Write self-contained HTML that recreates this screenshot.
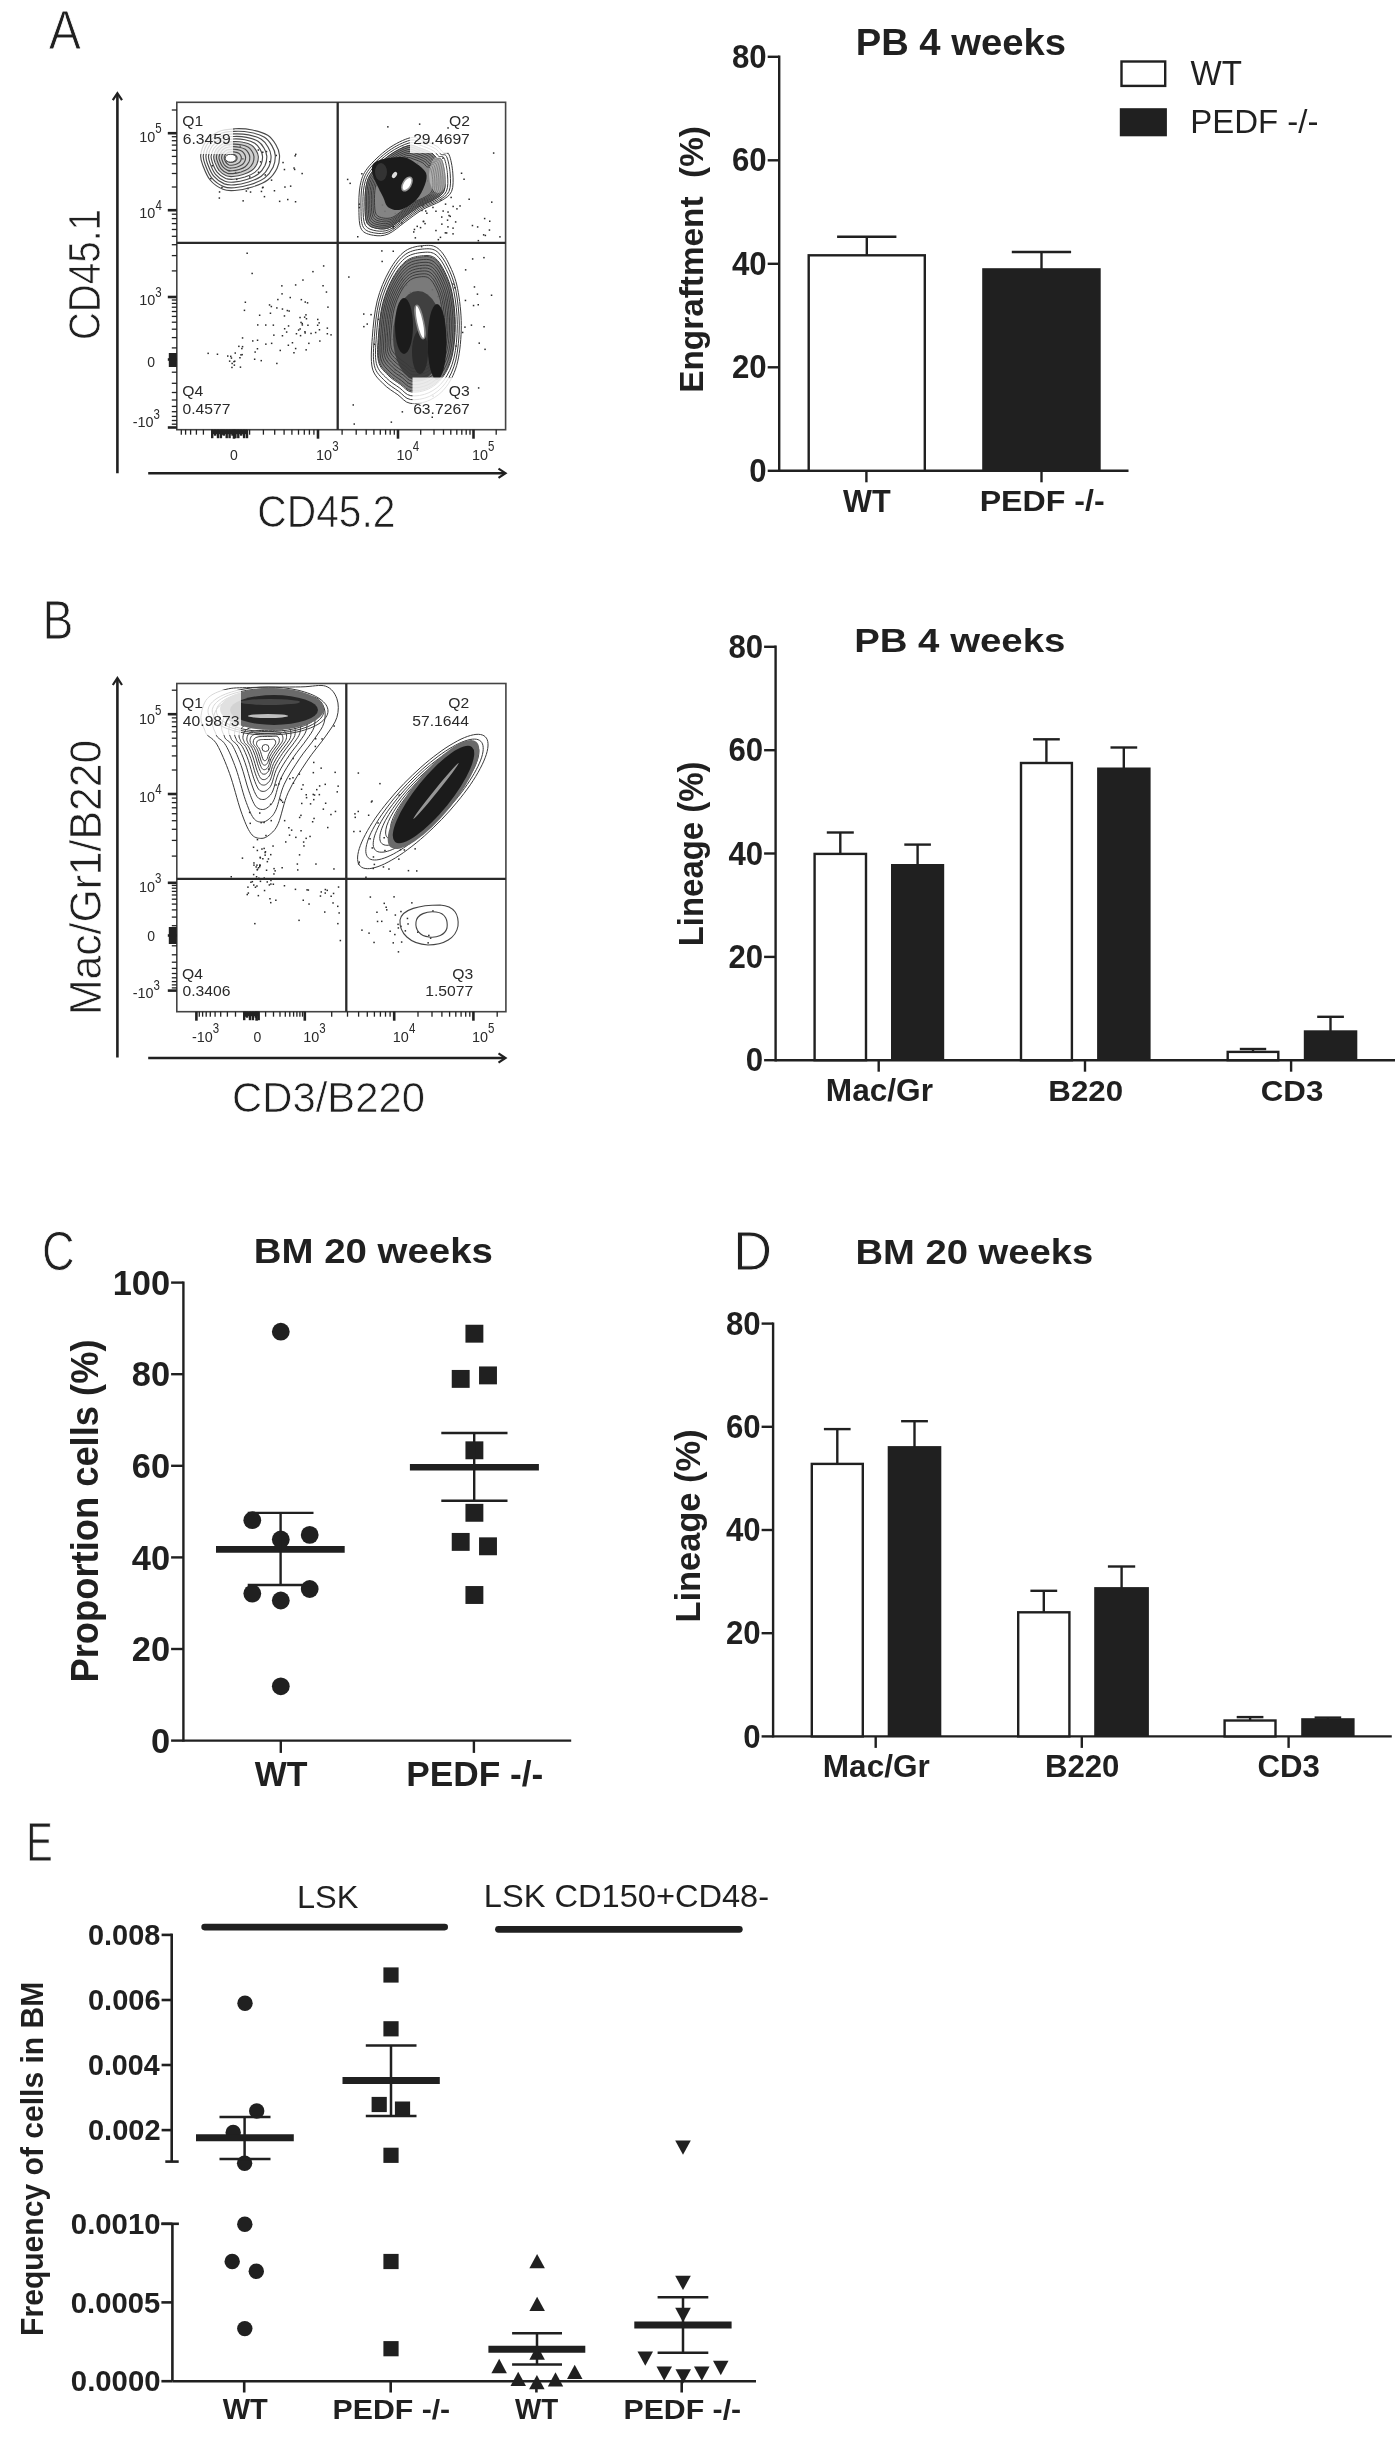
<!DOCTYPE html>
<html><head><meta charset="utf-8"><style>
html,body{margin:0;padding:0;background:#fff;}
svg{display:block;filter:grayscale(1);}
text{font-family:"Liberation Sans",sans-serif;font-kerning:none;}
</style></head><body>
<svg width="1395" height="2438" viewBox="0 0 1395 2438">
<rect width="1395" height="2438" fill="#fff"/>
<line x1="779.2" y1="55.6" x2="779.2" y2="472.0" stroke="#231f20" stroke-width="2.4" stroke-linecap="butt"/>
<line x1="767.7" y1="470.8" x2="779.2" y2="470.8" stroke="#231f20" stroke-width="2.4" stroke-linecap="butt"/>
<text transform="translate(749.33,481.99) scale(0.9600,1)" font-size="32.50" font-weight="bold" fill="#231f20">0</text>
<line x1="767.7" y1="367.3" x2="779.2" y2="367.3" stroke="#231f20" stroke-width="2.4" stroke-linecap="butt"/>
<text transform="translate(731.98,378.49) scale(0.9600,1)" font-size="32.50" font-weight="bold" fill="#231f20">20</text>
<line x1="767.7" y1="263.8" x2="779.2" y2="263.8" stroke="#231f20" stroke-width="2.4" stroke-linecap="butt"/>
<text transform="translate(731.98,274.99) scale(0.9600,1)" font-size="32.50" font-weight="bold" fill="#231f20">40</text>
<line x1="767.7" y1="160.3" x2="779.2" y2="160.3" stroke="#231f20" stroke-width="2.4" stroke-linecap="butt"/>
<text transform="translate(731.98,171.49) scale(0.9600,1)" font-size="32.50" font-weight="bold" fill="#231f20">60</text>
<line x1="767.7" y1="56.8" x2="779.2" y2="56.8" stroke="#231f20" stroke-width="2.4" stroke-linecap="butt"/>
<text transform="translate(731.98,67.99) scale(0.9600,1)" font-size="32.50" font-weight="bold" fill="#231f20">80</text>
<line x1="779.2" y1="470.8" x2="1128.5" y2="470.8" stroke="#231f20" stroke-width="2.4" stroke-linecap="butt"/>
<line x1="866.4" y1="470.8" x2="866.4" y2="482.3" stroke="#231f20" stroke-width="2.4" stroke-linecap="butt"/>
<line x1="1041.5" y1="470.8" x2="1041.5" y2="482.3" stroke="#231f20" stroke-width="2.4" stroke-linecap="butt"/>
<line x1="866.8" y1="236.7" x2="866.8" y2="255.3" stroke="#231f20" stroke-width="2.4" stroke-linecap="butt"/>
<line x1="837.1" y1="236.7" x2="896.4" y2="236.7" stroke="#231f20" stroke-width="2.4" stroke-linecap="butt"/>
<rect x="808.7" y="255.3" width="116.1" height="215.5" fill="#fff" stroke="#231f20" stroke-width="2.4"/>
<line x1="1041.5" y1="252.0" x2="1041.5" y2="269.4" stroke="#231f20" stroke-width="2.4" stroke-linecap="butt"/>
<line x1="1011.8" y1="252.0" x2="1071.1" y2="252.0" stroke="#231f20" stroke-width="2.4" stroke-linecap="butt"/>
<rect x="982.2" y="268.2" width="118.5" height="202.6" fill="#231f20"/>
<text transform="translate(842.97,511.80) scale(0.9543,1)" font-size="32.12" font-weight="bold" fill="#231f20">WT</text>
<text transform="translate(979.65,511.19) scale(1.0586,1)" font-size="30.35" font-weight="bold" fill="#231f20">PEDF -/-</text>
<text transform="translate(855.64,54.93) scale(1.0137,1)" font-size="37.72" font-weight="bold" fill="#231f20">PB 4 weeks</text>
<text transform="translate(702.78,392.83) rotate(-90) scale(0.9794,1)" font-size="34.06" font-weight="bold" fill="#231f20">Engraftment&#160;&#160;(%)</text>
<rect x="1121.5" y="61.5" width="43.7" height="24.4" fill="#fff" stroke="#231f20" stroke-width="2.4"/>
<rect x="1119.8" y="108.2" width="47.1" height="28.1" fill="#231f20"/>
<text transform="translate(1190.60,84.90) scale(0.9219,1)" font-size="35.90" font-weight="normal" fill="#231f20">WT</text>
<text transform="translate(1190.19,133.27) scale(0.9697,1)" font-size="34.04" font-weight="normal" fill="#231f20">PEDF -/-</text>
<line x1="775.6" y1="645.6" x2="775.6" y2="1061.4" stroke="#231f20" stroke-width="2.4" stroke-linecap="butt"/>
<line x1="764.1" y1="1060.2" x2="775.6" y2="1060.2" stroke="#231f20" stroke-width="2.4" stroke-linecap="butt"/>
<text transform="translate(745.73,1071.39) scale(0.9600,1)" font-size="32.50" font-weight="bold" fill="#231f20">0</text>
<line x1="764.1" y1="956.9" x2="775.6" y2="956.9" stroke="#231f20" stroke-width="2.4" stroke-linecap="butt"/>
<text transform="translate(728.38,968.04) scale(0.9600,1)" font-size="32.50" font-weight="bold" fill="#231f20">20</text>
<line x1="764.1" y1="853.5" x2="775.6" y2="853.5" stroke="#231f20" stroke-width="2.4" stroke-linecap="butt"/>
<text transform="translate(728.38,864.69) scale(0.9600,1)" font-size="32.50" font-weight="bold" fill="#231f20">40</text>
<line x1="764.1" y1="750.2" x2="775.6" y2="750.2" stroke="#231f20" stroke-width="2.4" stroke-linecap="butt"/>
<text transform="translate(728.38,761.34) scale(0.9600,1)" font-size="32.50" font-weight="bold" fill="#231f20">60</text>
<line x1="764.1" y1="646.8" x2="775.6" y2="646.8" stroke="#231f20" stroke-width="2.4" stroke-linecap="butt"/>
<text transform="translate(728.38,657.99) scale(0.9600,1)" font-size="32.50" font-weight="bold" fill="#231f20">80</text>
<line x1="775.6" y1="1060.2" x2="1395.0" y2="1060.2" stroke="#231f20" stroke-width="2.4" stroke-linecap="butt"/>
<line x1="878.7" y1="1060.2" x2="878.7" y2="1071.7" stroke="#231f20" stroke-width="2.4" stroke-linecap="butt"/>
<line x1="1085.0" y1="1060.2" x2="1085.0" y2="1071.7" stroke="#231f20" stroke-width="2.4" stroke-linecap="butt"/>
<line x1="1291.1" y1="1060.2" x2="1291.1" y2="1071.7" stroke="#231f20" stroke-width="2.4" stroke-linecap="butt"/>
<line x1="840.3" y1="832.5" x2="840.3" y2="853.9" stroke="#231f20" stroke-width="2.4" stroke-linecap="butt"/>
<line x1="826.8" y1="832.5" x2="853.8" y2="832.5" stroke="#231f20" stroke-width="2.4" stroke-linecap="butt"/>
<rect x="814.6" y="853.9" width="51.4" height="206.3" fill="#fff" stroke="#231f20" stroke-width="2.4"/>
<line x1="917.6" y1="844.6" x2="917.6" y2="865.2" stroke="#231f20" stroke-width="2.4" stroke-linecap="butt"/>
<line x1="904.3" y1="844.6" x2="930.9" y2="844.6" stroke="#231f20" stroke-width="2.4" stroke-linecap="butt"/>
<rect x="891.0" y="864.0" width="53.2" height="196.2" fill="#231f20"/>
<line x1="1046.4" y1="739.3" x2="1046.4" y2="763.0" stroke="#231f20" stroke-width="2.4" stroke-linecap="butt"/>
<line x1="1033.1" y1="739.3" x2="1059.8" y2="739.3" stroke="#231f20" stroke-width="2.4" stroke-linecap="butt"/>
<rect x="1021.0" y="763.0" width="50.9" height="297.2" fill="#fff" stroke="#231f20" stroke-width="2.4"/>
<line x1="1123.8" y1="747.5" x2="1123.8" y2="768.7" stroke="#231f20" stroke-width="2.4" stroke-linecap="butt"/>
<line x1="1110.5" y1="747.5" x2="1137.2" y2="747.5" stroke="#231f20" stroke-width="2.4" stroke-linecap="butt"/>
<rect x="1097.1" y="767.5" width="53.5" height="292.7" fill="#231f20"/>
<line x1="1253.0" y1="1049.0" x2="1253.0" y2="1051.9" stroke="#231f20" stroke-width="2.4" stroke-linecap="butt"/>
<line x1="1239.8" y1="1049.0" x2="1266.2" y2="1049.0" stroke="#231f20" stroke-width="2.4" stroke-linecap="butt"/>
<rect x="1227.7" y="1051.9" width="50.6" height="8.3" fill="#fff" stroke="#231f20" stroke-width="2.4"/>
<line x1="1330.5" y1="1016.8" x2="1330.5" y2="1031.5" stroke="#231f20" stroke-width="2.4" stroke-linecap="butt"/>
<line x1="1317.2" y1="1016.8" x2="1343.9" y2="1016.8" stroke="#231f20" stroke-width="2.4" stroke-linecap="butt"/>
<rect x="1303.8" y="1030.3" width="53.5" height="29.9" fill="#231f20"/>
<text transform="translate(825.78,1100.98) scale(1.0202,1)" font-size="31.02" font-weight="bold" fill="#231f20">Mac/Gr</text>
<text transform="translate(1048.31,1100.61) scale(1.0397,1)" font-size="30.08" font-weight="bold" fill="#231f20">B220</text>
<text transform="translate(1260.72,1100.56) scale(1.0425,1)" font-size="30.02" font-weight="bold" fill="#231f20">CD3</text>
<text transform="translate(854.13,652.28) scale(1.1606,1)" font-size="33.09" font-weight="bold" fill="#231f20">PB 4 weeks</text>
<text transform="translate(702.94,946.30) rotate(-90) scale(0.9610,1)" font-size="34.28" font-weight="bold" fill="#231f20">Lineage (%)</text>
<line x1="773.1" y1="1322.4" x2="773.1" y2="1737.6" stroke="#231f20" stroke-width="2.4" stroke-linecap="butt"/>
<line x1="761.6" y1="1736.4" x2="773.1" y2="1736.4" stroke="#231f20" stroke-width="2.4" stroke-linecap="butt"/>
<text transform="translate(743.23,1747.59) scale(0.9600,1)" font-size="32.50" font-weight="bold" fill="#231f20">0</text>
<line x1="761.6" y1="1633.2" x2="773.1" y2="1633.2" stroke="#231f20" stroke-width="2.4" stroke-linecap="butt"/>
<text transform="translate(725.88,1644.39) scale(0.9600,1)" font-size="32.50" font-weight="bold" fill="#231f20">20</text>
<line x1="761.6" y1="1530.0" x2="773.1" y2="1530.0" stroke="#231f20" stroke-width="2.4" stroke-linecap="butt"/>
<text transform="translate(725.88,1541.19) scale(0.9600,1)" font-size="32.50" font-weight="bold" fill="#231f20">40</text>
<line x1="761.6" y1="1426.8" x2="773.1" y2="1426.8" stroke="#231f20" stroke-width="2.4" stroke-linecap="butt"/>
<text transform="translate(725.88,1437.99) scale(0.9600,1)" font-size="32.50" font-weight="bold" fill="#231f20">60</text>
<line x1="761.6" y1="1323.6" x2="773.1" y2="1323.6" stroke="#231f20" stroke-width="2.4" stroke-linecap="butt"/>
<text transform="translate(725.88,1334.79) scale(0.9600,1)" font-size="32.50" font-weight="bold" fill="#231f20">80</text>
<line x1="773.1" y1="1736.4" x2="1391.8" y2="1736.4" stroke="#231f20" stroke-width="2.4" stroke-linecap="butt"/>
<line x1="875.7" y1="1736.4" x2="875.7" y2="1747.9" stroke="#231f20" stroke-width="2.4" stroke-linecap="butt"/>
<line x1="1081.8" y1="1736.4" x2="1081.8" y2="1747.9" stroke="#231f20" stroke-width="2.4" stroke-linecap="butt"/>
<line x1="1288.6" y1="1736.4" x2="1288.6" y2="1747.9" stroke="#231f20" stroke-width="2.4" stroke-linecap="butt"/>
<line x1="837.3" y1="1429.1" x2="837.3" y2="1463.9" stroke="#231f20" stroke-width="2.4" stroke-linecap="butt"/>
<line x1="823.9" y1="1429.1" x2="850.6" y2="1429.1" stroke="#231f20" stroke-width="2.4" stroke-linecap="butt"/>
<rect x="811.8" y="1463.9" width="51.0" height="272.5" fill="#fff" stroke="#231f20" stroke-width="2.4"/>
<line x1="914.5" y1="1421.2" x2="914.5" y2="1447.3" stroke="#231f20" stroke-width="2.4" stroke-linecap="butt"/>
<line x1="901.1" y1="1421.2" x2="927.9" y2="1421.2" stroke="#231f20" stroke-width="2.4" stroke-linecap="butt"/>
<rect x="887.7" y="1446.1" width="53.6" height="290.3" fill="#231f20"/>
<line x1="1043.8" y1="1590.8" x2="1043.8" y2="1612.3" stroke="#231f20" stroke-width="2.4" stroke-linecap="butt"/>
<line x1="1030.4" y1="1590.8" x2="1057.2" y2="1590.8" stroke="#231f20" stroke-width="2.4" stroke-linecap="butt"/>
<rect x="1018.2" y="1612.3" width="51.2" height="124.1" fill="#fff" stroke="#231f20" stroke-width="2.4"/>
<line x1="1121.6" y1="1566.5" x2="1121.6" y2="1588.3" stroke="#231f20" stroke-width="2.4" stroke-linecap="butt"/>
<line x1="1107.9" y1="1566.5" x2="1135.2" y2="1566.5" stroke="#231f20" stroke-width="2.4" stroke-linecap="butt"/>
<rect x="1094.2" y="1587.1" width="54.7" height="149.3" fill="#231f20"/>
<line x1="1250.1" y1="1717.1" x2="1250.1" y2="1720.5" stroke="#231f20" stroke-width="2.4" stroke-linecap="butt"/>
<line x1="1236.7" y1="1717.1" x2="1263.4" y2="1717.1" stroke="#231f20" stroke-width="2.4" stroke-linecap="butt"/>
<rect x="1224.6" y="1720.5" width="50.9" height="15.9" fill="#fff" stroke="#231f20" stroke-width="2.4"/>
<line x1="1327.9" y1="1717.6" x2="1327.9" y2="1719.4" stroke="#231f20" stroke-width="2.4" stroke-linecap="butt"/>
<line x1="1314.6" y1="1717.6" x2="1341.2" y2="1717.6" stroke="#231f20" stroke-width="2.4" stroke-linecap="butt"/>
<rect x="1301.2" y="1718.2" width="53.4" height="18.2" fill="#231f20"/>
<text transform="translate(822.79,1777.27) scale(1.0095,1)" font-size="31.29" font-weight="bold" fill="#231f20">Mac/Gr</text>
<text transform="translate(1044.91,1777.10) scale(1.0130,1)" font-size="30.79" font-weight="bold" fill="#231f20">B220</text>
<text transform="translate(1257.52,1777.05) scale(1.0153,1)" font-size="30.73" font-weight="bold" fill="#231f20">CD3</text>
<text transform="translate(855.44,1263.76) scale(1.0916,1)" font-size="35.00" font-weight="bold" fill="#231f20">BM 20 weeks</text>
<text transform="translate(700.06,1622.60) rotate(-90) scale(1.0077,1)" font-size="34.17" font-weight="bold" fill="#231f20">Lineage (%)</text>
<line x1="183.4" y1="1281.4" x2="183.4" y2="1741.8" stroke="#231f20" stroke-width="2.4" stroke-linecap="butt"/>
<line x1="171.1" y1="1740.6" x2="183.4" y2="1740.6" stroke="#231f20" stroke-width="2.4" stroke-linecap="butt"/>
<text transform="translate(150.97,1752.85) scale(0.9670,1)" font-size="35.60" font-weight="bold" fill="#231f20">0</text>
<line x1="171.1" y1="1649.0" x2="183.4" y2="1649.0" stroke="#231f20" stroke-width="2.4" stroke-linecap="butt"/>
<text transform="translate(131.82,1661.25) scale(0.9670,1)" font-size="35.60" font-weight="bold" fill="#231f20">20</text>
<line x1="171.1" y1="1557.4" x2="183.4" y2="1557.4" stroke="#231f20" stroke-width="2.4" stroke-linecap="butt"/>
<text transform="translate(131.82,1569.65) scale(0.9670,1)" font-size="35.60" font-weight="bold" fill="#231f20">40</text>
<line x1="171.1" y1="1465.8" x2="183.4" y2="1465.8" stroke="#231f20" stroke-width="2.4" stroke-linecap="butt"/>
<text transform="translate(131.82,1478.05) scale(0.9670,1)" font-size="35.60" font-weight="bold" fill="#231f20">60</text>
<line x1="171.1" y1="1374.2" x2="183.4" y2="1374.2" stroke="#231f20" stroke-width="2.4" stroke-linecap="butt"/>
<text transform="translate(131.82,1386.45) scale(0.9670,1)" font-size="35.60" font-weight="bold" fill="#231f20">80</text>
<line x1="171.1" y1="1282.6" x2="183.4" y2="1282.6" stroke="#231f20" stroke-width="2.4" stroke-linecap="butt"/>
<text transform="translate(112.68,1294.85) scale(0.9670,1)" font-size="35.60" font-weight="bold" fill="#231f20">100</text>
<line x1="183.4" y1="1740.6" x2="571.2" y2="1740.6" stroke="#231f20" stroke-width="2.4" stroke-linecap="butt"/>
<line x1="280.8" y1="1740.6" x2="280.8" y2="1752.9" stroke="#231f20" stroke-width="2.4" stroke-linecap="butt"/>
<line x1="473.9" y1="1740.6" x2="473.9" y2="1752.9" stroke="#231f20" stroke-width="2.4" stroke-linecap="butt"/>
<text transform="translate(254.77,1786.00) scale(0.9557,1)" font-size="35.47" font-weight="bold" fill="#231f20">WT</text>
<text transform="translate(406.14,1785.71) scale(1.0308,1)" font-size="34.25" font-weight="bold" fill="#231f20">PEDF -/-</text>
<text transform="translate(253.73,1263.35) scale(1.0813,1)" font-size="35.54" font-weight="bold" fill="#231f20">BM 20 weeks</text>
<text transform="translate(97.99,1682.53) rotate(-90) scale(0.9409,1)" font-size="38.62" font-weight="bold" fill="#231f20">Proportion cells (%)</text>
<circle cx="280.8" cy="1331.7" r="8.9" fill="#231f20"/>
<circle cx="252.3" cy="1520.2" r="8.9" fill="#231f20"/>
<circle cx="309.7" cy="1534.9" r="8.9" fill="#231f20"/>
<circle cx="280.8" cy="1539.5" r="8.9" fill="#231f20"/>
<circle cx="252.3" cy="1593.6" r="8.9" fill="#231f20"/>
<circle cx="309.7" cy="1589" r="8.9" fill="#231f20"/>
<circle cx="280.8" cy="1600.5" r="8.9" fill="#231f20"/>
<circle cx="280.8" cy="1686.3" r="8.9" fill="#231f20"/>
<rect x="465.45" y="1324.75" width="17.9" height="17.9" fill="#231f20"/>
<rect x="451.75" y="1369.95" width="17.9" height="17.9" fill="#231f20"/>
<rect x="479.05" y="1366.45" width="17.9" height="17.9" fill="#231f20"/>
<rect x="465.45" y="1441.35" width="17.9" height="17.9" fill="#231f20"/>
<rect x="465.45" y="1503.85" width="17.9" height="17.9" fill="#231f20"/>
<rect x="451.75" y="1532.95" width="17.9" height="17.9" fill="#231f20"/>
<rect x="479.05" y="1537.35" width="17.9" height="17.9" fill="#231f20"/>
<rect x="465.45" y="1586.05" width="17.9" height="17.9" fill="#231f20"/>
<line x1="216.0" y1="1549.4" x2="344.7" y2="1549.4" stroke="#231f20" stroke-width="6.8" stroke-linecap="butt"/>
<line x1="280.6" y1="1512.9" x2="280.6" y2="1585.0" stroke="#231f20" stroke-width="2.4" stroke-linecap="butt"/>
<line x1="247.7" y1="1512.9" x2="313.5" y2="1512.9" stroke="#231f20" stroke-width="2.4" stroke-linecap="butt"/>
<line x1="247.7" y1="1585.0" x2="313.5" y2="1585.0" stroke="#231f20" stroke-width="2.4" stroke-linecap="butt"/>
<line x1="409.9" y1="1467.3" x2="538.9" y2="1467.3" stroke="#231f20" stroke-width="6.6" stroke-linecap="butt"/>
<line x1="474.2" y1="1433.0" x2="474.2" y2="1500.8" stroke="#231f20" stroke-width="2.4" stroke-linecap="butt"/>
<line x1="441.3" y1="1433.0" x2="507.5" y2="1433.0" stroke="#231f20" stroke-width="2.4" stroke-linecap="butt"/>
<line x1="441.3" y1="1500.8" x2="507.5" y2="1500.8" stroke="#231f20" stroke-width="2.4" stroke-linecap="butt"/>
<line x1="171.7" y1="1933.6" x2="171.7" y2="2161.6" stroke="#231f20" stroke-width="2.6" stroke-linecap="butt"/>
<line x1="165.3" y1="2161.6" x2="178.7" y2="2161.6" stroke="#231f20" stroke-width="2.6" stroke-linecap="butt"/>
<line x1="161.6" y1="1934.9" x2="171.7" y2="1934.9" stroke="#231f20" stroke-width="2.6" stroke-linecap="butt"/>
<text transform="translate(87.96,1945.01) scale(0.9853,1)" font-size="29.38" font-weight="bold" fill="#231f20">0.008</text>
<line x1="161.6" y1="2000.0" x2="171.7" y2="2000.0" stroke="#231f20" stroke-width="2.6" stroke-linecap="butt"/>
<text transform="translate(87.95,2010.11) scale(0.9875,1)" font-size="29.38" font-weight="bold" fill="#231f20">0.006</text>
<line x1="161.6" y1="2065.0" x2="171.7" y2="2065.0" stroke="#231f20" stroke-width="2.6" stroke-linecap="butt"/>
<text transform="translate(87.97,2075.11) scale(0.9751,1)" font-size="29.38" font-weight="bold" fill="#231f20">0.004</text>
<line x1="161.6" y1="2130.1" x2="171.7" y2="2130.1" stroke="#231f20" stroke-width="2.6" stroke-linecap="butt"/>
<text transform="translate(87.95,2140.21) scale(0.9891,1)" font-size="29.38" font-weight="bold" fill="#231f20">0.002</text>
<line x1="172.4" y1="2223.8" x2="172.4" y2="2381.2" stroke="#231f20" stroke-width="2.6" stroke-linecap="butt"/>
<line x1="161.4" y1="2223.8" x2="178.9" y2="2223.8" stroke="#231f20" stroke-width="2.6" stroke-linecap="butt"/>
<line x1="161.4" y1="2223.8" x2="172.4" y2="2223.8" stroke="#231f20" stroke-width="2.6" stroke-linecap="butt"/>
<text transform="translate(70.84,2234.06) scale(0.9848,1)" font-size="29.80" font-weight="bold" fill="#231f20">0.0010</text>
<line x1="161.4" y1="2302.4" x2="172.4" y2="2302.4" stroke="#231f20" stroke-width="2.6" stroke-linecap="butt"/>
<text transform="translate(70.84,2312.66) scale(0.9804,1)" font-size="29.80" font-weight="bold" fill="#231f20">0.0005</text>
<line x1="161.4" y1="2381.2" x2="172.4" y2="2381.2" stroke="#231f20" stroke-width="2.6" stroke-linecap="butt"/>
<text transform="translate(70.84,2391.46) scale(0.9848,1)" font-size="29.80" font-weight="bold" fill="#231f20">0.0000</text>
<line x1="172.4" y1="2381.2" x2="756.0" y2="2381.2" stroke="#231f20" stroke-width="2.6" stroke-linecap="butt"/>
<line x1="244.2" y1="2381.2" x2="244.2" y2="2392.5" stroke="#231f20" stroke-width="2.6" stroke-linecap="butt"/>
<line x1="390.7" y1="2381.2" x2="390.7" y2="2392.5" stroke="#231f20" stroke-width="2.6" stroke-linecap="butt"/>
<line x1="536.4" y1="2381.2" x2="536.4" y2="2392.5" stroke="#231f20" stroke-width="2.6" stroke-linecap="butt"/>
<line x1="681.7" y1="2381.2" x2="681.7" y2="2392.5" stroke="#231f20" stroke-width="2.6" stroke-linecap="butt"/>
<text transform="translate(222.67,2419.20) scale(0.9697,1)" font-size="29.94" font-weight="bold" fill="#231f20">WT</text>
<text transform="translate(332.58,2418.63) scale(1.0676,1)" font-size="28.34" font-weight="bold" fill="#231f20">PEDF -/-</text>
<text transform="translate(515.07,2419.20) scale(0.9286,1)" font-size="29.94" font-weight="bold" fill="#231f20">WT</text>
<text transform="translate(623.47,2418.63) scale(1.0685,1)" font-size="28.34" font-weight="bold" fill="#231f20">PEDF -/-</text>
<text transform="translate(42.80,2335.91) rotate(-90) scale(0.9601,1)" font-size="31.33" font-weight="bold" fill="#231f20">Frequency of cells in BM</text>
<line x1="204.6" y1="1927.1" x2="444.7" y2="1927.1" stroke="#231f20" stroke-width="6.6" stroke-linecap="round"/>
<line x1="498.5" y1="1929.3" x2="739.3" y2="1929.3" stroke="#231f20" stroke-width="6.8" stroke-linecap="round"/>
<text transform="translate(297.03,1907.89) scale(1.0273,1)" font-size="31.64" font-weight="normal" fill="#231f20">LSK</text>
<text transform="translate(483.83,1907.49) scale(1.0394,1)" font-size="31.36" font-weight="normal" fill="#231f20">LSK CD150+CD48-</text>
<circle cx="245" cy="2003.2" r="7.7" fill="#231f20"/>
<circle cx="256.7" cy="2111" r="7.7" fill="#231f20"/>
<circle cx="233.2" cy="2132.4" r="7.7" fill="#231f20"/>
<circle cx="244.6" cy="2163.2" r="7.7" fill="#231f20"/>
<circle cx="244.8" cy="2224.2" r="7.7" fill="#231f20"/>
<circle cx="232.2" cy="2261.5" r="7.7" fill="#231f20"/>
<circle cx="256.3" cy="2271.3" r="7.7" fill="#231f20"/>
<circle cx="244.8" cy="2328.6" r="7.7" fill="#231f20"/>
<rect x="383.4" y="1967.4" width="15.2" height="15.2" fill="#231f20"/>
<rect x="383.4" y="2021.2" width="15.2" height="15.2" fill="#231f20"/>
<rect x="371.59999999999997" y="2096.9" width="15.2" height="15.2" fill="#231f20"/>
<rect x="394.9" y="2101.5" width="15.2" height="15.2" fill="#231f20"/>
<rect x="383.4" y="2147.7000000000003" width="15.2" height="15.2" fill="#231f20"/>
<rect x="383.4" y="2253.9" width="15.2" height="15.2" fill="#231f20"/>
<rect x="383.4" y="2341.1" width="15.2" height="15.2" fill="#231f20"/>
<path d="M537.1,2254.0 L544.9,2268.3 L529.4,2268.3Z" fill="#231f20"/>
<path d="M537.1,2296.7 L544.9,2311.0 L529.4,2311.0Z" fill="#231f20"/>
<path d="M537.1,2345.3 L544.9,2359.7 L529.4,2359.7Z" fill="#231f20"/>
<path d="M499.2,2358.8 L506.9,2373.2 L491.4,2373.2Z" fill="#231f20"/>
<path d="M518.2,2371.8 L526.0,2386.1 L510.5,2386.1Z" fill="#231f20"/>
<path d="M536.9,2374.9 L544.6,2389.2 L529.1,2389.2Z" fill="#231f20"/>
<path d="M555.5,2372.2 L563.2,2386.5 L547.8,2386.5Z" fill="#231f20"/>
<path d="M574.7,2364.8 L582.5,2379.1 L567.0,2379.1Z" fill="#231f20"/>
<path d="M683.0,2154.8 L690.8,2140.4 L675.2,2140.4Z" fill="#231f20"/>
<path d="M683.0,2290.1 L690.8,2275.8 L675.2,2275.8Z" fill="#231f20"/>
<path d="M683.0,2322.2 L690.8,2307.8 L675.2,2307.8Z" fill="#231f20"/>
<path d="M645.3,2365.8 L653.0,2351.4 L637.5,2351.4Z" fill="#231f20"/>
<path d="M664.2,2380.8 L672.0,2366.5 L656.5,2366.5Z" fill="#231f20"/>
<path d="M683.2,2383.5 L691.0,2369.2 L675.5,2369.2Z" fill="#231f20"/>
<path d="M701.8,2380.8 L709.5,2366.5 L694.0,2366.5Z" fill="#231f20"/>
<path d="M720.8,2375.2 L728.5,2360.8 L713.0,2360.8Z" fill="#231f20"/>
<line x1="196.0" y1="2137.7" x2="293.8" y2="2137.7" stroke="#231f20" stroke-width="7" stroke-linecap="butt"/>
<line x1="244.6" y1="2116.9" x2="244.6" y2="2159.0" stroke="#231f20" stroke-width="2.5" stroke-linecap="butt"/>
<line x1="219.5" y1="2116.9" x2="270.5" y2="2116.9" stroke="#231f20" stroke-width="2.5" stroke-linecap="butt"/>
<line x1="219.5" y1="2159.0" x2="270.5" y2="2159.0" stroke="#231f20" stroke-width="2.5" stroke-linecap="butt"/>
<line x1="342.5" y1="2080.5" x2="439.8" y2="2080.5" stroke="#231f20" stroke-width="7" stroke-linecap="butt"/>
<line x1="391.0" y1="2045.6" x2="391.0" y2="2116.0" stroke="#231f20" stroke-width="2.5" stroke-linecap="butt"/>
<line x1="365.8" y1="2045.6" x2="416.5" y2="2045.6" stroke="#231f20" stroke-width="2.5" stroke-linecap="butt"/>
<line x1="365.8" y1="2116.0" x2="416.5" y2="2116.0" stroke="#231f20" stroke-width="2.5" stroke-linecap="butt"/>
<line x1="488.4" y1="2349.3" x2="585.3" y2="2349.3" stroke="#231f20" stroke-width="7" stroke-linecap="butt"/>
<line x1="537.0" y1="2333.2" x2="537.0" y2="2364.5" stroke="#231f20" stroke-width="2.5" stroke-linecap="butt"/>
<line x1="512.1" y1="2333.2" x2="562.0" y2="2333.2" stroke="#231f20" stroke-width="2.5" stroke-linecap="butt"/>
<line x1="512.1" y1="2364.5" x2="562.0" y2="2364.5" stroke="#231f20" stroke-width="2.5" stroke-linecap="butt"/>
<line x1="634.3" y1="2325.0" x2="731.6" y2="2325.0" stroke="#231f20" stroke-width="7" stroke-linecap="butt"/>
<line x1="683.0" y1="2297.2" x2="683.0" y2="2352.8" stroke="#231f20" stroke-width="2.5" stroke-linecap="butt"/>
<line x1="657.6" y1="2297.2" x2="708.3" y2="2297.2" stroke="#231f20" stroke-width="2.5" stroke-linecap="butt"/>
<line x1="657.6" y1="2352.8" x2="708.3" y2="2352.8" stroke="#231f20" stroke-width="2.5" stroke-linecap="butt"/>
<text transform="translate(48.81,48.50) scale(0.8557,1)" font-size="56.40" font-weight="normal" fill="#231f20" stroke="#fff" stroke-width="0.9">A</text>
<text transform="translate(42.61,639.00) scale(0.8217,1)" font-size="56.25" font-weight="normal" fill="#231f20" stroke="#fff" stroke-width="0.9">B</text>
<text transform="translate(42.11,1270.15) scale(0.8034,1)" font-size="56.21" font-weight="normal" fill="#231f20" stroke="#fff" stroke-width="0.9">C</text>
<text transform="translate(733.05,1269.90) scale(0.9635,1)" font-size="56.25" font-weight="normal" fill="#231f20" stroke="#fff" stroke-width="0.9">D</text>
<text transform="translate(26.25,1860.90) scale(0.7052,1)" font-size="56.25" font-weight="normal" fill="#231f20" stroke="#fff" stroke-width="0.9">E</text>
<line x1="117.4" y1="94.2" x2="117.4" y2="473.2" stroke="#231f20" stroke-width="2.6"/>
<path d="M112.80000000000001,100.2 L117.4,93.2 L122.0,100.2" fill="none" stroke="#231f20" stroke-width="2.2"/>
<line x1="148.2" y1="473.2" x2="504.5" y2="473.2" stroke="#231f20" stroke-width="2.6"/>
<path d="M498.5,468.59999999999997 L505.5,473.2 L498.5,477.8" fill="none" stroke="#231f20" stroke-width="2.2"/>
<text transform="translate(99.58,340.06) rotate(-90) scale(0.8878,1)" font-size="43.50" font-weight="normal" fill="#231f20" stroke="#fff" stroke-width="0.7">CD45.1</text>
<text transform="translate(257.33,526.96) scale(0.9134,1)" font-size="44.63" font-weight="normal" fill="#231f20" stroke="#fff" stroke-width="0.7">CD45.2</text>
<rect x="285.9" y="331.3" width="1.5" height="1.5" fill="#2a2a2a"/>
<rect x="286.6" y="309.8" width="1.5" height="1.5" fill="#2a2a2a"/>
<rect x="269.7" y="312.5" width="1.5" height="1.5" fill="#2a2a2a"/>
<rect x="318.7" y="329.0" width="1.5" height="1.5" fill="#2a2a2a"/>
<rect x="316.9" y="324.5" width="1.5" height="1.5" fill="#2a2a2a"/>
<rect x="301.5" y="322.8" width="1.5" height="1.5" fill="#2a2a2a"/>
<rect x="252.0" y="340.2" width="1.5" height="1.5" fill="#2a2a2a"/>
<rect x="304.2" y="331.0" width="1.5" height="1.5" fill="#2a2a2a"/>
<rect x="251.4" y="272.7" width="1.5" height="1.5" fill="#2a2a2a"/>
<rect x="270.6" y="305.8" width="1.5" height="1.5" fill="#2a2a2a"/>
<rect x="299.3" y="316.8" width="1.5" height="1.5" fill="#2a2a2a"/>
<rect x="304.5" y="301.3" width="1.5" height="1.5" fill="#2a2a2a"/>
<rect x="299.4" y="328.2" width="1.5" height="1.5" fill="#2a2a2a"/>
<rect x="276.1" y="362.7" width="1.5" height="1.5" fill="#2a2a2a"/>
<rect x="305.4" y="349.1" width="1.5" height="1.5" fill="#2a2a2a"/>
<rect x="277.1" y="298.8" width="1.5" height="1.5" fill="#2a2a2a"/>
<rect x="283.7" y="315.2" width="1.5" height="1.5" fill="#2a2a2a"/>
<rect x="307.2" y="324.5" width="1.5" height="1.5" fill="#2a2a2a"/>
<rect x="281.3" y="293.1" width="1.5" height="1.5" fill="#2a2a2a"/>
<rect x="279.5" y="349.7" width="1.5" height="1.5" fill="#2a2a2a"/>
<rect x="272.6" y="324.4" width="1.5" height="1.5" fill="#2a2a2a"/>
<rect x="302.2" y="279.3" width="1.5" height="1.5" fill="#2a2a2a"/>
<rect x="293.2" y="352.0" width="1.5" height="1.5" fill="#2a2a2a"/>
<rect x="243.7" y="309.6" width="1.5" height="1.5" fill="#2a2a2a"/>
<rect x="289.5" y="296.8" width="1.5" height="1.5" fill="#2a2a2a"/>
<rect x="303.9" y="316.4" width="1.5" height="1.5" fill="#2a2a2a"/>
<rect x="256.8" y="339.5" width="1.5" height="1.5" fill="#2a2a2a"/>
<rect x="308.1" y="342.6" width="1.5" height="1.5" fill="#2a2a2a"/>
<rect x="326.6" y="327.4" width="1.5" height="1.5" fill="#2a2a2a"/>
<rect x="294.9" y="284.2" width="1.5" height="1.5" fill="#2a2a2a"/>
<rect x="306.8" y="302.1" width="1.5" height="1.5" fill="#2a2a2a"/>
<rect x="281.1" y="285.1" width="1.5" height="1.5" fill="#2a2a2a"/>
<rect x="268.8" y="304.2" width="1.5" height="1.5" fill="#2a2a2a"/>
<rect x="322.9" y="265.2" width="1.5" height="1.5" fill="#2a2a2a"/>
<rect x="257.0" y="324.2" width="1.5" height="1.5" fill="#2a2a2a"/>
<rect x="326.6" y="333.0" width="1.5" height="1.5" fill="#2a2a2a"/>
<rect x="246.4" y="252.5" width="1.5" height="1.5" fill="#2a2a2a"/>
<rect x="300.6" y="298.9" width="1.5" height="1.5" fill="#2a2a2a"/>
<rect x="265.1" y="343.4" width="1.5" height="1.5" fill="#2a2a2a"/>
<rect x="318.4" y="322.1" width="1.5" height="1.5" fill="#2a2a2a"/>
<rect x="297.9" y="329.3" width="1.5" height="1.5" fill="#2a2a2a"/>
<rect x="330.3" y="334.1" width="1.5" height="1.5" fill="#2a2a2a"/>
<rect x="304.4" y="332.2" width="1.5" height="1.5" fill="#2a2a2a"/>
<rect x="254.4" y="351.3" width="1.5" height="1.5" fill="#2a2a2a"/>
<rect x="314.9" y="331.8" width="1.5" height="1.5" fill="#2a2a2a"/>
<rect x="244.6" y="301.5" width="1.5" height="1.5" fill="#2a2a2a"/>
<rect x="312.2" y="270.9" width="1.5" height="1.5" fill="#2a2a2a"/>
<rect x="287.6" y="344.5" width="1.5" height="1.5" fill="#2a2a2a"/>
<rect x="260.5" y="359.9" width="1.5" height="1.5" fill="#2a2a2a"/>
<rect x="305.2" y="314.1" width="1.5" height="1.5" fill="#2a2a2a"/>
<rect x="299.8" y="334.9" width="1.5" height="1.5" fill="#2a2a2a"/>
<rect x="294.9" y="347.8" width="1.5" height="1.5" fill="#2a2a2a"/>
<rect x="276.1" y="307.2" width="1.5" height="1.5" fill="#2a2a2a"/>
<rect x="317.0" y="318.7" width="1.5" height="1.5" fill="#2a2a2a"/>
<rect x="270.9" y="342.6" width="1.5" height="1.5" fill="#2a2a2a"/>
<rect x="327.2" y="306.4" width="1.5" height="1.5" fill="#2a2a2a"/>
<rect x="258.9" y="314.5" width="1.5" height="1.5" fill="#2a2a2a"/>
<rect x="288.4" y="310.3" width="1.5" height="1.5" fill="#2a2a2a"/>
<rect x="325.7" y="291.3" width="1.5" height="1.5" fill="#2a2a2a"/>
<rect x="322.3" y="285.0" width="1.5" height="1.5" fill="#2a2a2a"/>
<rect x="273.1" y="334.4" width="1.5" height="1.5" fill="#2a2a2a"/>
<rect x="319.1" y="340.3" width="1.5" height="1.5" fill="#2a2a2a"/>
<rect x="300.3" y="321.7" width="1.5" height="1.5" fill="#2a2a2a"/>
<rect x="295.7" y="333.0" width="1.5" height="1.5" fill="#2a2a2a"/>
<rect x="287.8" y="325.2" width="1.5" height="1.5" fill="#2a2a2a"/>
<rect x="305.7" y="318.0" width="1.5" height="1.5" fill="#2a2a2a"/>
<rect x="310.3" y="332.7" width="1.5" height="1.5" fill="#2a2a2a"/>
<rect x="281.7" y="308.3" width="1.5" height="1.5" fill="#2a2a2a"/>
<rect x="291.7" y="342.0" width="1.5" height="1.5" fill="#2a2a2a"/>
<rect x="283.9" y="328.0" width="1.5" height="1.5" fill="#2a2a2a"/>
<rect x="265.0" y="324.3" width="1.5" height="1.5" fill="#2a2a2a"/>
<rect x="301.6" y="324.2" width="1.5" height="1.5" fill="#2a2a2a"/>
<rect x="281.7" y="335.0" width="1.5" height="1.5" fill="#2a2a2a"/>
<rect x="234.5" y="352.3" width="1.5" height="1.5" fill="#2a2a2a"/>
<rect x="253.9" y="358.5" width="1.5" height="1.5" fill="#2a2a2a"/>
<rect x="227.0" y="355.3" width="1.5" height="1.5" fill="#2a2a2a"/>
<rect x="230.0" y="355.6" width="1.5" height="1.5" fill="#2a2a2a"/>
<rect x="207.4" y="352.6" width="1.5" height="1.5" fill="#2a2a2a"/>
<rect x="241.1" y="347.8" width="1.5" height="1.5" fill="#2a2a2a"/>
<rect x="231.4" y="362.7" width="1.5" height="1.5" fill="#2a2a2a"/>
<rect x="239.7" y="366.4" width="1.5" height="1.5" fill="#2a2a2a"/>
<rect x="216.7" y="353.5" width="1.5" height="1.5" fill="#2a2a2a"/>
<rect x="228.9" y="360.4" width="1.5" height="1.5" fill="#2a2a2a"/>
<rect x="241.8" y="337.2" width="1.5" height="1.5" fill="#2a2a2a"/>
<rect x="241.8" y="345.9" width="1.5" height="1.5" fill="#2a2a2a"/>
<rect x="238.1" y="345.6" width="1.5" height="1.5" fill="#2a2a2a"/>
<rect x="233.6" y="364.4" width="1.5" height="1.5" fill="#2a2a2a"/>
<rect x="230.7" y="357.3" width="1.5" height="1.5" fill="#2a2a2a"/>
<rect x="239.2" y="357.0" width="1.5" height="1.5" fill="#2a2a2a"/>
<rect x="231.2" y="366.7" width="1.5" height="1.5" fill="#2a2a2a"/>
<rect x="241.4" y="353.9" width="1.5" height="1.5" fill="#2a2a2a"/>
<rect x="256.7" y="348.0" width="1.5" height="1.5" fill="#2a2a2a"/>
<rect x="240.2" y="354.1" width="1.5" height="1.5" fill="#2a2a2a"/>
<rect x="233.2" y="360.9" width="1.5" height="1.5" fill="#2a2a2a"/>
<rect x="234.0" y="360.5" width="1.5" height="1.5" fill="#2a2a2a"/>
<rect x="228.4" y="144.8" width="1.5" height="1.5" fill="#2a2a2a"/>
<rect x="275.5" y="154.7" width="1.5" height="1.5" fill="#2a2a2a"/>
<rect x="239.4" y="145.5" width="1.5" height="1.5" fill="#2a2a2a"/>
<rect x="289.9" y="185.4" width="1.5" height="1.5" fill="#2a2a2a"/>
<rect x="294.4" y="155.1" width="1.5" height="1.5" fill="#2a2a2a"/>
<rect x="262.0" y="151.5" width="1.5" height="1.5" fill="#2a2a2a"/>
<rect x="278.9" y="200.6" width="1.5" height="1.5" fill="#2a2a2a"/>
<rect x="242.4" y="200.1" width="1.5" height="1.5" fill="#2a2a2a"/>
<rect x="283.7" y="168.8" width="1.5" height="1.5" fill="#2a2a2a"/>
<rect x="218.6" y="197.3" width="1.5" height="1.5" fill="#2a2a2a"/>
<rect x="259.9" y="161.1" width="1.5" height="1.5" fill="#2a2a2a"/>
<rect x="270.8" y="179.4" width="1.5" height="1.5" fill="#2a2a2a"/>
<rect x="295.0" y="153.6" width="1.5" height="1.5" fill="#2a2a2a"/>
<rect x="287.0" y="198.8" width="1.5" height="1.5" fill="#2a2a2a"/>
<rect x="293.9" y="168.7" width="1.5" height="1.5" fill="#2a2a2a"/>
<rect x="245.6" y="190.3" width="1.5" height="1.5" fill="#2a2a2a"/>
<rect x="264.5" y="174.2" width="1.5" height="1.5" fill="#2a2a2a"/>
<rect x="293.3" y="167.3" width="1.5" height="1.5" fill="#2a2a2a"/>
<rect x="211.5" y="165.0" width="1.5" height="1.5" fill="#2a2a2a"/>
<rect x="221.2" y="186.7" width="1.5" height="1.5" fill="#2a2a2a"/>
<rect x="269.0" y="161.0" width="1.5" height="1.5" fill="#2a2a2a"/>
<rect x="261.8" y="187.0" width="1.5" height="1.5" fill="#2a2a2a"/>
<rect x="263.7" y="195.9" width="1.5" height="1.5" fill="#2a2a2a"/>
<rect x="260.7" y="190.7" width="1.5" height="1.5" fill="#2a2a2a"/>
<rect x="294.8" y="201.0" width="1.5" height="1.5" fill="#2a2a2a"/>
<rect x="247.2" y="187.8" width="1.5" height="1.5" fill="#2a2a2a"/>
<rect x="220.7" y="152.5" width="1.5" height="1.5" fill="#2a2a2a"/>
<rect x="218.8" y="191.2" width="1.5" height="1.5" fill="#2a2a2a"/>
<rect x="234.9" y="171.8" width="1.5" height="1.5" fill="#2a2a2a"/>
<rect x="257.8" y="171.5" width="1.5" height="1.5" fill="#2a2a2a"/>
<rect x="249.0" y="176.2" width="1.5" height="1.5" fill="#2a2a2a"/>
<rect x="301.4" y="172.8" width="1.5" height="1.5" fill="#2a2a2a"/>
<rect x="273.7" y="190.0" width="1.5" height="1.5" fill="#2a2a2a"/>
<rect x="257.6" y="149.3" width="1.5" height="1.5" fill="#2a2a2a"/>
<rect x="249.8" y="191.3" width="1.5" height="1.5" fill="#2a2a2a"/>
<rect x="225.8" y="161.2" width="1.5" height="1.5" fill="#2a2a2a"/>
<rect x="284.2" y="186.3" width="1.5" height="1.5" fill="#2a2a2a"/>
<rect x="262.2" y="186.5" width="1.5" height="1.5" fill="#2a2a2a"/>
<rect x="265.7" y="150.8" width="1.5" height="1.5" fill="#2a2a2a"/>
<rect x="227.6" y="160.5" width="1.5" height="1.5" fill="#2a2a2a"/>
<rect x="282.3" y="161.8" width="1.5" height="1.5" fill="#2a2a2a"/>
<rect x="242.1" y="158.1" width="1.5" height="1.5" fill="#2a2a2a"/>
<rect x="228.3" y="169.9" width="1.5" height="1.5" fill="#2a2a2a"/>
<rect x="236.0" y="178.6" width="1.5" height="1.5" fill="#2a2a2a"/>
<rect x="210.1" y="177.9" width="1.5" height="1.5" fill="#2a2a2a"/>
<rect x="402.5" y="146.7" width="1.5" height="1.5" fill="#2a2a2a"/>
<rect x="450.4" y="196.7" width="1.5" height="1.5" fill="#2a2a2a"/>
<rect x="346.9" y="178.7" width="1.5" height="1.5" fill="#2a2a2a"/>
<rect x="435.2" y="191.2" width="1.5" height="1.5" fill="#2a2a2a"/>
<rect x="452.3" y="227.4" width="1.5" height="1.5" fill="#2a2a2a"/>
<rect x="448.3" y="214.8" width="1.5" height="1.5" fill="#2a2a2a"/>
<rect x="471.7" y="224.8" width="1.5" height="1.5" fill="#2a2a2a"/>
<rect x="440.8" y="142.5" width="1.5" height="1.5" fill="#2a2a2a"/>
<rect x="414.6" y="190.9" width="1.5" height="1.5" fill="#2a2a2a"/>
<rect x="492.9" y="152.3" width="1.5" height="1.5" fill="#2a2a2a"/>
<rect x="392.5" y="225.7" width="1.5" height="1.5" fill="#2a2a2a"/>
<rect x="491.0" y="201.4" width="1.5" height="1.5" fill="#2a2a2a"/>
<rect x="444.6" y="232.1" width="1.5" height="1.5" fill="#2a2a2a"/>
<rect x="393.3" y="202.3" width="1.5" height="1.5" fill="#2a2a2a"/>
<rect x="435.2" y="229.8" width="1.5" height="1.5" fill="#2a2a2a"/>
<rect x="423.8" y="199.1" width="1.5" height="1.5" fill="#2a2a2a"/>
<rect x="389.4" y="194.2" width="1.5" height="1.5" fill="#2a2a2a"/>
<rect x="456.2" y="208.1" width="1.5" height="1.5" fill="#2a2a2a"/>
<rect x="395.1" y="179.8" width="1.5" height="1.5" fill="#2a2a2a"/>
<rect x="447.3" y="127.2" width="1.5" height="1.5" fill="#2a2a2a"/>
<rect x="446.8" y="219.4" width="1.5" height="1.5" fill="#2a2a2a"/>
<rect x="483.9" y="217.8" width="1.5" height="1.5" fill="#2a2a2a"/>
<rect x="422.6" y="220.7" width="1.5" height="1.5" fill="#2a2a2a"/>
<rect x="357.0" y="236.0" width="1.5" height="1.5" fill="#2a2a2a"/>
<rect x="436.4" y="183.9" width="1.5" height="1.5" fill="#2a2a2a"/>
<rect x="375.9" y="185.0" width="1.5" height="1.5" fill="#2a2a2a"/>
<rect x="435.2" y="210.5" width="1.5" height="1.5" fill="#2a2a2a"/>
<rect x="411.1" y="175.8" width="1.5" height="1.5" fill="#2a2a2a"/>
<rect x="499.2" y="236.1" width="1.5" height="1.5" fill="#2a2a2a"/>
<rect x="383.2" y="164.6" width="1.5" height="1.5" fill="#2a2a2a"/>
<rect x="484.6" y="234.7" width="1.5" height="1.5" fill="#2a2a2a"/>
<rect x="488.7" y="229.3" width="1.5" height="1.5" fill="#2a2a2a"/>
<rect x="394.5" y="212.8" width="1.5" height="1.5" fill="#2a2a2a"/>
<rect x="349.4" y="182.6" width="1.5" height="1.5" fill="#2a2a2a"/>
<rect x="422.9" y="220.7" width="1.5" height="1.5" fill="#2a2a2a"/>
<rect x="399.5" y="201.3" width="1.5" height="1.5" fill="#2a2a2a"/>
<rect x="441.0" y="216.3" width="1.5" height="1.5" fill="#2a2a2a"/>
<rect x="447.3" y="211.3" width="1.5" height="1.5" fill="#2a2a2a"/>
<rect x="413.7" y="228.7" width="1.5" height="1.5" fill="#2a2a2a"/>
<rect x="426.7" y="180.2" width="1.5" height="1.5" fill="#2a2a2a"/>
<rect x="403.1" y="205.0" width="1.5" height="1.5" fill="#2a2a2a"/>
<rect x="421.2" y="209.7" width="1.5" height="1.5" fill="#2a2a2a"/>
<rect x="425.0" y="210.3" width="1.5" height="1.5" fill="#2a2a2a"/>
<rect x="420.3" y="167.2" width="1.5" height="1.5" fill="#2a2a2a"/>
<rect x="439.7" y="236.6" width="1.5" height="1.5" fill="#2a2a2a"/>
<rect x="440.2" y="199.3" width="1.5" height="1.5" fill="#2a2a2a"/>
<rect x="440.6" y="176.0" width="1.5" height="1.5" fill="#2a2a2a"/>
<rect x="358.6" y="206.8" width="1.5" height="1.5" fill="#2a2a2a"/>
<rect x="392.4" y="227.2" width="1.5" height="1.5" fill="#2a2a2a"/>
<rect x="387.1" y="126.1" width="1.5" height="1.5" fill="#2a2a2a"/>
<rect x="411.6" y="163.9" width="1.5" height="1.5" fill="#2a2a2a"/>
<rect x="398.3" y="220.6" width="1.5" height="1.5" fill="#2a2a2a"/>
<rect x="442.4" y="210.3" width="1.5" height="1.5" fill="#2a2a2a"/>
<rect x="476.9" y="226.2" width="1.5" height="1.5" fill="#2a2a2a"/>
<rect x="424.3" y="222.9" width="1.5" height="1.5" fill="#2a2a2a"/>
<rect x="482.9" y="234.1" width="1.5" height="1.5" fill="#2a2a2a"/>
<rect x="460.8" y="172.5" width="1.5" height="1.5" fill="#2a2a2a"/>
<rect x="419.8" y="226.9" width="1.5" height="1.5" fill="#2a2a2a"/>
<rect x="414.6" y="237.1" width="1.5" height="1.5" fill="#2a2a2a"/>
<rect x="445.9" y="232.2" width="1.5" height="1.5" fill="#2a2a2a"/>
<rect x="468.4" y="198.5" width="1.5" height="1.5" fill="#2a2a2a"/>
<rect x="413.0" y="231.2" width="1.5" height="1.5" fill="#2a2a2a"/>
<rect x="459.3" y="205.2" width="1.5" height="1.5" fill="#2a2a2a"/>
<rect x="384.2" y="210.6" width="1.5" height="1.5" fill="#2a2a2a"/>
<rect x="437.6" y="238.9" width="1.5" height="1.5" fill="#2a2a2a"/>
<rect x="452.4" y="205.7" width="1.5" height="1.5" fill="#2a2a2a"/>
<rect x="454.9" y="221.2" width="1.5" height="1.5" fill="#2a2a2a"/>
<rect x="432.2" y="206.7" width="1.5" height="1.5" fill="#2a2a2a"/>
<rect x="416.5" y="225.6" width="1.5" height="1.5" fill="#2a2a2a"/>
<rect x="388.1" y="186.1" width="1.5" height="1.5" fill="#2a2a2a"/>
<rect x="425.2" y="161.1" width="1.5" height="1.5" fill="#2a2a2a"/>
<rect x="409.7" y="144.7" width="1.5" height="1.5" fill="#2a2a2a"/>
<rect x="401.1" y="222.1" width="1.5" height="1.5" fill="#2a2a2a"/>
<rect x="444.8" y="203.4" width="1.5" height="1.5" fill="#2a2a2a"/>
<rect x="416.9" y="162.5" width="1.5" height="1.5" fill="#2a2a2a"/>
<rect x="489.0" y="220.5" width="1.5" height="1.5" fill="#2a2a2a"/>
<rect x="463.3" y="178.5" width="1.5" height="1.5" fill="#2a2a2a"/>
<rect x="418.5" y="150.4" width="1.5" height="1.5" fill="#2a2a2a"/>
<rect x="452.3" y="233.1" width="1.5" height="1.5" fill="#2a2a2a"/>
<rect x="358.6" y="203.4" width="1.5" height="1.5" fill="#2a2a2a"/>
<rect x="447.1" y="152.1" width="1.5" height="1.5" fill="#2a2a2a"/>
<rect x="361.1" y="173.0" width="1.5" height="1.5" fill="#2a2a2a"/>
<rect x="403.0" y="162.9" width="1.5" height="1.5" fill="#2a2a2a"/>
<rect x="426.1" y="212.5" width="1.5" height="1.5" fill="#2a2a2a"/>
<rect x="447.2" y="226.1" width="1.5" height="1.5" fill="#2a2a2a"/>
<rect x="477.6" y="239.9" width="1.5" height="1.5" fill="#2a2a2a"/>
<rect x="379.1" y="189.8" width="1.5" height="1.5" fill="#2a2a2a"/>
<rect x="387.9" y="172.7" width="1.5" height="1.5" fill="#2a2a2a"/>
<rect x="422.2" y="205.2" width="1.5" height="1.5" fill="#2a2a2a"/>
<rect x="442.2" y="157.4" width="1.5" height="1.5" fill="#2a2a2a"/>
<rect x="381.7" y="204.3" width="1.5" height="1.5" fill="#2a2a2a"/>
<rect x="418.0" y="195.7" width="1.5" height="1.5" fill="#2a2a2a"/>
<rect x="422.8" y="182.2" width="1.5" height="1.5" fill="#2a2a2a"/>
<rect x="449.5" y="215.6" width="1.5" height="1.5" fill="#2a2a2a"/>
<rect x="421.9" y="184.8" width="1.5" height="1.5" fill="#2a2a2a"/>
<rect x="418.9" y="123.4" width="1.5" height="1.5" fill="#2a2a2a"/>
<rect x="390.7" y="206.1" width="1.5" height="1.5" fill="#2a2a2a"/>
<rect x="372.4" y="211.0" width="1.5" height="1.5" fill="#2a2a2a"/>
<rect x="430.2" y="163.7" width="1.5" height="1.5" fill="#2a2a2a"/>
<rect x="416.2" y="195.6" width="1.5" height="1.5" fill="#2a2a2a"/>
<rect x="441.1" y="223.4" width="1.5" height="1.5" fill="#2a2a2a"/>
<rect x="423.7" y="179.5" width="1.5" height="1.5" fill="#2a2a2a"/>
<rect x="420.0" y="203.0" width="1.5" height="1.5" fill="#2a2a2a"/>
<rect x="447.9" y="341.2" width="1.5" height="1.5" fill="#2a2a2a"/>
<rect x="392.5" y="250.5" width="1.5" height="1.5" fill="#2a2a2a"/>
<rect x="405.8" y="284.3" width="1.5" height="1.5" fill="#2a2a2a"/>
<rect x="377.7" y="318.6" width="1.5" height="1.5" fill="#2a2a2a"/>
<rect x="401.3" y="330.8" width="1.5" height="1.5" fill="#2a2a2a"/>
<rect x="439.9" y="302.3" width="1.5" height="1.5" fill="#2a2a2a"/>
<rect x="461.9" y="331.7" width="1.5" height="1.5" fill="#2a2a2a"/>
<rect x="391.4" y="338.6" width="1.5" height="1.5" fill="#2a2a2a"/>
<rect x="432.3" y="395.4" width="1.5" height="1.5" fill="#2a2a2a"/>
<rect x="449.1" y="377.1" width="1.5" height="1.5" fill="#2a2a2a"/>
<rect x="439.4" y="316.4" width="1.5" height="1.5" fill="#2a2a2a"/>
<rect x="439.3" y="265.7" width="1.5" height="1.5" fill="#2a2a2a"/>
<rect x="464.9" y="269.1" width="1.5" height="1.5" fill="#2a2a2a"/>
<rect x="411.5" y="326.1" width="1.5" height="1.5" fill="#2a2a2a"/>
<rect x="464.2" y="326.4" width="1.5" height="1.5" fill="#2a2a2a"/>
<rect x="389.3" y="339.2" width="1.5" height="1.5" fill="#2a2a2a"/>
<rect x="442.1" y="364.1" width="1.5" height="1.5" fill="#2a2a2a"/>
<rect x="390.6" y="421.4" width="1.5" height="1.5" fill="#2a2a2a"/>
<rect x="483.3" y="326.0" width="1.5" height="1.5" fill="#2a2a2a"/>
<rect x="430.2" y="301.4" width="1.5" height="1.5" fill="#2a2a2a"/>
<rect x="473.7" y="286.2" width="1.5" height="1.5" fill="#2a2a2a"/>
<rect x="445.6" y="298.6" width="1.5" height="1.5" fill="#2a2a2a"/>
<rect x="393.6" y="364.5" width="1.5" height="1.5" fill="#2a2a2a"/>
<rect x="470.7" y="324.4" width="1.5" height="1.5" fill="#2a2a2a"/>
<rect x="394.3" y="369.6" width="1.5" height="1.5" fill="#2a2a2a"/>
<rect x="418.1" y="342.1" width="1.5" height="1.5" fill="#2a2a2a"/>
<rect x="477.9" y="387.2" width="1.5" height="1.5" fill="#2a2a2a"/>
<rect x="420.1" y="368.2" width="1.5" height="1.5" fill="#2a2a2a"/>
<rect x="395.4" y="322.5" width="1.5" height="1.5" fill="#2a2a2a"/>
<rect x="353.5" y="423.3" width="1.5" height="1.5" fill="#2a2a2a"/>
<rect x="471.9" y="258.2" width="1.5" height="1.5" fill="#2a2a2a"/>
<rect x="464.7" y="299.7" width="1.5" height="1.5" fill="#2a2a2a"/>
<rect x="417.7" y="307.8" width="1.5" height="1.5" fill="#2a2a2a"/>
<rect x="415.4" y="265.2" width="1.5" height="1.5" fill="#2a2a2a"/>
<rect x="420.9" y="245.9" width="1.5" height="1.5" fill="#2a2a2a"/>
<rect x="417.3" y="342.0" width="1.5" height="1.5" fill="#2a2a2a"/>
<rect x="437.8" y="312.3" width="1.5" height="1.5" fill="#2a2a2a"/>
<rect x="385.7" y="333.8" width="1.5" height="1.5" fill="#2a2a2a"/>
<rect x="401.6" y="411.1" width="1.5" height="1.5" fill="#2a2a2a"/>
<rect x="449.2" y="318.7" width="1.5" height="1.5" fill="#2a2a2a"/>
<rect x="402.1" y="286.4" width="1.5" height="1.5" fill="#2a2a2a"/>
<rect x="384.4" y="305.6" width="1.5" height="1.5" fill="#2a2a2a"/>
<rect x="431.2" y="353.4" width="1.5" height="1.5" fill="#2a2a2a"/>
<rect x="393.2" y="325.7" width="1.5" height="1.5" fill="#2a2a2a"/>
<rect x="400.2" y="334.3" width="1.5" height="1.5" fill="#2a2a2a"/>
<rect x="425.9" y="347.4" width="1.5" height="1.5" fill="#2a2a2a"/>
<rect x="410.9" y="345.1" width="1.5" height="1.5" fill="#2a2a2a"/>
<rect x="422.0" y="367.4" width="1.5" height="1.5" fill="#2a2a2a"/>
<rect x="348.1" y="276.3" width="1.5" height="1.5" fill="#2a2a2a"/>
<rect x="419.9" y="268.2" width="1.5" height="1.5" fill="#2a2a2a"/>
<rect x="380.3" y="359.5" width="1.5" height="1.5" fill="#2a2a2a"/>
<rect x="395.3" y="359.9" width="1.5" height="1.5" fill="#2a2a2a"/>
<rect x="448.3" y="341.9" width="1.5" height="1.5" fill="#2a2a2a"/>
<rect x="439.3" y="319.2" width="1.5" height="1.5" fill="#2a2a2a"/>
<rect x="366.5" y="323.3" width="1.5" height="1.5" fill="#2a2a2a"/>
<rect x="437.3" y="295.9" width="1.5" height="1.5" fill="#2a2a2a"/>
<rect x="416.2" y="366.2" width="1.5" height="1.5" fill="#2a2a2a"/>
<rect x="386.6" y="360.2" width="1.5" height="1.5" fill="#2a2a2a"/>
<rect x="490.8" y="294.5" width="1.5" height="1.5" fill="#2a2a2a"/>
<rect x="425.6" y="316.7" width="1.5" height="1.5" fill="#2a2a2a"/>
<rect x="478.5" y="342.4" width="1.5" height="1.5" fill="#2a2a2a"/>
<rect x="454.1" y="287.0" width="1.5" height="1.5" fill="#2a2a2a"/>
<rect x="419.4" y="324.5" width="1.5" height="1.5" fill="#2a2a2a"/>
<rect x="352.5" y="404.2" width="1.5" height="1.5" fill="#2a2a2a"/>
<rect x="448.3" y="317.8" width="1.5" height="1.5" fill="#2a2a2a"/>
<rect x="437.0" y="345.2" width="1.5" height="1.5" fill="#2a2a2a"/>
<rect x="363.0" y="313.3" width="1.5" height="1.5" fill="#2a2a2a"/>
<rect x="476.7" y="293.4" width="1.5" height="1.5" fill="#2a2a2a"/>
<rect x="381.1" y="250.2" width="1.5" height="1.5" fill="#2a2a2a"/>
<rect x="373.6" y="343.5" width="1.5" height="1.5" fill="#2a2a2a"/>
<rect x="484.3" y="348.6" width="1.5" height="1.5" fill="#2a2a2a"/>
<rect x="400.3" y="287.9" width="1.5" height="1.5" fill="#2a2a2a"/>
<rect x="440.1" y="355.2" width="1.5" height="1.5" fill="#2a2a2a"/>
<rect x="381.4" y="260.7" width="1.5" height="1.5" fill="#2a2a2a"/>
<rect x="431.1" y="338.6" width="1.5" height="1.5" fill="#2a2a2a"/>
<rect x="370.3" y="313.9" width="1.5" height="1.5" fill="#2a2a2a"/>
<rect x="399.4" y="350.3" width="1.5" height="1.5" fill="#2a2a2a"/>
<rect x="415.6" y="320.3" width="1.5" height="1.5" fill="#2a2a2a"/>
<rect x="406.6" y="382.9" width="1.5" height="1.5" fill="#2a2a2a"/>
<rect x="472.8" y="304.8" width="1.5" height="1.5" fill="#2a2a2a"/>
<rect x="452.2" y="283.3" width="1.5" height="1.5" fill="#2a2a2a"/>
<rect x="422.7" y="366.2" width="1.5" height="1.5" fill="#2a2a2a"/>
<rect x="477.5" y="304.0" width="1.5" height="1.5" fill="#2a2a2a"/>
<rect x="417.2" y="335.8" width="1.5" height="1.5" fill="#2a2a2a"/>
<rect x="363.1" y="325.9" width="1.5" height="1.5" fill="#2a2a2a"/>
<rect x="394.3" y="345.4" width="1.5" height="1.5" fill="#2a2a2a"/>
<rect x="421.5" y="339.3" width="1.5" height="1.5" fill="#2a2a2a"/>
<rect x="399.1" y="373.9" width="1.5" height="1.5" fill="#2a2a2a"/>
<rect x="409.6" y="291.7" width="1.5" height="1.5" fill="#2a2a2a"/>
<rect x="394.3" y="323.9" width="1.5" height="1.5" fill="#2a2a2a"/>
<rect x="452.3" y="316.1" width="1.5" height="1.5" fill="#2a2a2a"/>
<rect x="431.7" y="288.9" width="1.5" height="1.5" fill="#2a2a2a"/>
<rect x="431.5" y="416.5" width="1.5" height="1.5" fill="#2a2a2a"/>
<rect x="395.5" y="325.9" width="1.5" height="1.5" fill="#2a2a2a"/>
<rect x="426.6" y="381.3" width="1.5" height="1.5" fill="#2a2a2a"/>
<rect x="443.0" y="368.7" width="1.5" height="1.5" fill="#2a2a2a"/>
<rect x="427.8" y="339.0" width="1.5" height="1.5" fill="#2a2a2a"/>
<rect x="455.3" y="345.3" width="1.5" height="1.5" fill="#2a2a2a"/>
<rect x="483.2" y="256.9" width="1.5" height="1.5" fill="#2a2a2a"/>
<rect x="450.9" y="304.5" width="1.5" height="1.5" fill="#2a2a2a"/>
<rect x="419.8" y="311.0" width="1.5" height="1.5" fill="#2a2a2a"/>
<rect x="401.0" y="278.9" width="1.5" height="1.5" fill="#2a2a2a"/>
<rect x="396.0" y="360.2" width="1.5" height="1.5" fill="#2a2a2a"/>
<path d="M214.2,156.6 C214.0,158.8 214.6,160.1 215.5,162.4 C216.3,164.6 217.5,168.0 219.4,170.2 C221.2,172.3 224.2,174.3 226.5,175.3 C228.7,176.3 230.3,176.2 233.0,176.0 C235.7,175.8 239.6,175.0 242.6,174.0 C245.7,173.1 248.8,171.9 251.0,170.2 C253.3,168.5 255.1,166.0 256.2,163.7 C257.3,161.4 257.7,158.8 257.5,156.6 C257.4,154.5 256.6,152.6 255.6,150.8 C254.5,148.9 253.2,147.0 251.0,145.6 C248.9,144.3 245.7,143.3 242.6,142.7 C239.6,142.1 236.1,141.9 233.0,142.0 C229.8,142.2 226.6,142.4 223.9,143.6 C221.2,144.9 218.4,147.3 216.8,149.5 C215.2,151.6 214.4,154.5 214.2,156.6Z" fill="#a0a0a0" fill-opacity="0.5"/>
<path d="M200.7,155.3 C200.3,159.2 201.4,161.7 203.0,165.8 C204.6,169.9 206.8,176.1 210.1,180.0 C213.4,183.9 218.9,187.6 223.0,189.3 C227.1,191.1 229.9,190.9 234.8,190.5 C239.7,190.1 246.9,188.8 252.4,187.0 C257.9,185.2 263.6,183.1 267.7,180.0 C271.8,176.9 275.1,172.3 277.1,168.2 C279.1,164.1 279.7,159.2 279.5,155.3 C279.3,151.4 277.9,148.0 275.9,144.7 C273.9,141.4 271.6,137.8 267.7,135.3 C263.8,132.9 257.9,131.1 252.4,130.0 C246.9,128.9 240.5,128.5 234.8,128.8 C229.1,129.1 223.2,129.4 218.3,131.7 C213.4,133.9 208.3,138.4 205.4,142.3 C202.5,146.2 201.1,151.4 200.7,155.3Z" fill="none" stroke="#4a4a4a" stroke-width="1.15"/>
<path d="M203.3,155.6 C202.9,159.1 204.0,161.4 205.4,165.1 C206.8,168.9 208.8,174.5 211.9,178.1 C214.9,181.7 219.9,185.0 223.7,186.6 C227.4,188.2 230.0,188.0 234.4,187.7 C238.9,187.3 245.5,186.1 250.5,184.5 C255.5,182.9 260.7,181.0 264.5,178.1 C268.2,175.2 271.3,171.1 273.1,167.3 C274.9,163.6 275.4,159.1 275.3,155.6 C275.1,152.0 273.8,148.9 272.0,145.9 C270.2,142.8 268.1,139.5 264.5,137.3 C260.9,135.1 255.5,133.4 250.5,132.5 C245.5,131.5 239.6,131.1 234.4,131.4 C229.3,131.6 223.9,131.9 219.4,134.0 C214.9,136.1 210.3,140.1 207.6,143.7 C204.9,147.3 203.7,152.0 203.3,155.6Z" fill="none" stroke="#4a4a4a" stroke-width="1.15"/>
<path d="M205.9,155.8 C205.6,159.0 206.5,161.1 207.8,164.5 C209.1,167.9 210.9,173.0 213.7,176.2 C216.4,179.4 220.9,182.4 224.3,183.9 C227.7,185.3 230.0,185.2 234.1,184.9 C238.1,184.6 244.1,183.4 248.6,182.0 C253.2,180.5 257.9,178.8 261.3,176.2 C264.7,173.6 267.4,169.9 269.0,166.5 C270.7,163.1 271.2,159.0 271.0,155.8 C270.8,152.6 269.7,149.8 268.0,147.0 C266.4,144.3 264.5,141.3 261.3,139.3 C258.0,137.3 253.2,135.8 248.6,134.9 C244.1,134.0 238.8,133.7 234.1,133.9 C229.4,134.1 224.5,134.4 220.5,136.3 C216.4,138.2 212.2,141.8 209.8,145.1 C207.4,148.3 206.2,152.6 205.9,155.8Z" fill="none" stroke="#4a4a4a" stroke-width="1.15"/>
<path d="M208.5,156.1 C208.2,159.0 209.1,160.8 210.2,163.8 C211.4,166.9 213.0,171.4 215.5,174.3 C217.9,177.2 222.0,179.9 225.0,181.2 C228.1,182.5 230.1,182.4 233.7,182.1 C237.4,181.8 242.7,180.8 246.7,179.5 C250.8,178.2 255.0,176.6 258.0,174.3 C261.1,172.0 263.5,168.6 265.0,165.6 C266.4,162.5 266.9,159.0 266.8,156.1 C266.6,153.2 265.6,150.7 264.1,148.2 C262.7,145.8 260.9,143.1 258.0,141.3 C255.2,139.5 250.8,138.2 246.7,137.4 C242.7,136.6 237.9,136.3 233.7,136.5 C229.5,136.7 225.2,136.9 221.5,138.6 C217.9,140.3 214.2,143.5 212.0,146.4 C209.8,149.4 208.8,153.2 208.5,156.1Z" fill="none" stroke="#4a4a4a" stroke-width="1.15"/>
<path d="M211.1,156.3 C210.9,158.9 211.6,160.5 212.6,163.2 C213.7,165.8 215.1,169.9 217.3,172.4 C219.4,175.0 223.0,177.3 225.7,178.5 C228.4,179.6 230.2,179.5 233.4,179.3 C236.6,179.0 241.3,178.1 244.9,177.0 C248.4,175.8 252.1,174.5 254.8,172.4 C257.5,170.4 259.7,167.4 261.0,164.7 C262.2,162.0 262.7,158.9 262.5,156.3 C262.4,153.8 261.5,151.6 260.2,149.4 C258.9,147.2 257.4,144.9 254.8,143.3 C252.3,141.7 248.4,140.5 244.9,139.8 C241.3,139.1 237.1,138.8 233.4,139.0 C229.7,139.2 225.8,139.4 222.6,140.9 C219.4,142.4 216.1,145.3 214.2,147.8 C212.3,150.4 211.4,153.8 211.1,156.3Z" fill="none" stroke="#4a4a4a" stroke-width="1.15"/>
<path d="M213.7,156.6 C213.5,158.8 214.2,160.2 215.0,162.5 C215.9,164.8 217.2,168.3 219.1,170.5 C220.9,172.7 224.0,174.8 226.3,175.8 C228.7,176.8 230.2,176.7 233.0,176.5 C235.8,176.2 239.9,175.5 243.0,174.5 C246.1,173.5 249.3,172.3 251.6,170.5 C253.9,168.8 255.8,166.2 256.9,163.9 C258.0,161.5 258.4,158.8 258.3,156.6 C258.2,154.3 257.4,152.5 256.2,150.6 C255.1,148.7 253.8,146.6 251.6,145.3 C249.4,143.9 246.1,142.9 243.0,142.3 C239.9,141.6 236.2,141.4 233.0,141.6 C229.8,141.7 226.5,141.9 223.7,143.2 C220.9,144.5 218.1,147.0 216.4,149.2 C214.7,151.4 214.0,154.3 213.7,156.6Z" fill="none" stroke="#4a4a4a" stroke-width="1.15"/>
<path d="M216.4,156.8 C216.2,158.7 216.7,159.9 217.5,161.8 C218.2,163.8 219.3,166.8 220.8,168.6 C222.4,170.5 225.0,172.2 227.0,173.1 C229.0,173.9 230.3,173.8 232.7,173.6 C235.0,173.5 238.5,172.8 241.1,172.0 C243.7,171.1 246.4,170.1 248.4,168.6 C250.4,167.1 252.0,165.0 252.9,163.0 C253.8,161.0 254.1,158.7 254.0,156.8 C253.9,154.9 253.3,153.3 252.3,151.7 C251.4,150.1 250.3,148.4 248.4,147.2 C246.5,146.1 243.7,145.2 241.1,144.7 C238.5,144.2 235.4,144.0 232.7,144.1 C229.9,144.3 227.1,144.4 224.8,145.5 C222.4,146.6 220.0,148.7 218.6,150.6 C217.2,152.5 216.5,154.9 216.4,156.8Z" fill="none" stroke="#4a4a4a" stroke-width="1.15"/>
<path d="M219.0,157.1 C218.8,158.6 219.2,159.6 219.9,161.2 C220.5,162.8 221.3,165.2 222.6,166.7 C223.9,168.3 226.1,169.7 227.7,170.4 C229.3,171.1 230.4,171.0 232.3,170.8 C234.2,170.7 237.0,170.2 239.2,169.5 C241.3,168.8 243.6,168.0 245.2,166.7 C246.8,165.5 248.1,163.7 248.9,162.1 C249.6,160.5 249.9,158.6 249.8,157.1 C249.7,155.5 249.2,154.2 248.4,152.9 C247.6,151.6 246.7,150.2 245.2,149.2 C243.6,148.3 241.3,147.6 239.2,147.2 C237.0,146.7 234.5,146.6 232.3,146.7 C230.1,146.8 227.8,147.0 225.8,147.8 C223.9,148.7 221.9,150.4 220.8,152.0 C219.7,153.5 219.1,155.5 219.0,157.1Z" fill="none" stroke="#4a4a4a" stroke-width="1.15"/>
<path d="M221.6,157.3 C221.4,158.5 221.8,159.3 222.3,160.5 C222.7,161.8 223.4,163.6 224.4,164.8 C225.4,166.0 227.1,167.1 228.4,167.7 C229.6,168.2 230.5,168.1 231.9,168.0 C233.4,167.9 235.6,167.5 237.3,167.0 C239.0,166.4 240.7,165.8 242.0,164.8 C243.2,163.9 244.2,162.5 244.8,161.2 C245.4,160.0 245.6,158.5 245.6,157.3 C245.5,156.1 245.1,155.1 244.5,154.1 C243.9,153.1 243.2,152.0 242.0,151.2 C240.8,150.5 239.0,149.9 237.3,149.6 C235.6,149.3 233.7,149.2 231.9,149.3 C230.2,149.3 228.4,149.4 226.9,150.1 C225.4,150.8 223.9,152.2 223.0,153.4 C222.1,154.6 221.7,156.1 221.6,157.3Z" fill="none" stroke="#4a4a4a" stroke-width="1.15"/>
<path d="M224.2,157.6 C224.1,158.4 224.3,159.0 224.7,159.9 C225.0,160.7 225.5,162.1 226.2,162.9 C226.9,163.8 228.1,164.6 229.0,165.0 C229.9,165.3 230.5,165.3 231.6,165.2 C232.7,165.1 234.2,164.8 235.4,164.5 C236.6,164.1 237.8,163.6 238.7,162.9 C239.6,162.3 240.4,161.3 240.8,160.4 C241.2,159.5 241.4,158.4 241.3,157.6 C241.3,156.7 241.0,156.0 240.5,155.3 C240.1,154.5 239.6,153.8 238.7,153.2 C237.9,152.7 236.6,152.3 235.4,152.1 C234.2,151.8 232.8,151.7 231.6,151.8 C230.4,151.9 229.1,152.0 228.0,152.4 C226.9,152.9 225.8,153.9 225.2,154.7 C224.6,155.6 224.3,156.7 224.2,157.6Z" fill="none" stroke="#4a4a4a" stroke-width="1.15"/>
<path d="M226.8,157.8 C226.7,158.3 226.9,158.7 227.1,159.2 C227.3,159.7 227.6,160.5 228.0,161.0 C228.4,161.6 229.2,162.0 229.7,162.3 C230.2,162.5 230.6,162.5 231.2,162.4 C231.9,162.4 232.8,162.2 233.5,162.0 C234.2,161.7 235.0,161.5 235.5,161.0 C236.1,160.6 236.5,160.0 236.8,159.5 C237.0,159.0 237.1,158.3 237.1,157.8 C237.0,157.3 236.9,156.9 236.6,156.4 C236.3,156.0 236.0,155.5 235.5,155.2 C235.0,154.9 234.2,154.7 233.5,154.5 C232.8,154.4 232.0,154.3 231.2,154.4 C230.5,154.4 229.7,154.5 229.1,154.7 C228.4,155.0 227.8,155.6 227.4,156.1 C227.0,156.6 226.8,157.3 226.8,157.8Z" fill="none" stroke="#4a4a4a" stroke-width="1.15"/>
<ellipse cx="230.7" cy="158.2" rx="5.5" ry="4" fill="#fff" stroke="#444" stroke-width="1"/>
<path d="M410.1,137.8 C404.4,139.2 395.3,143.6 388.2,148.7 C381.1,153.8 372.2,162.1 367.5,168.2 C362.8,174.3 361.6,178.4 360.2,185.3 C358.8,192.2 358.7,202.4 358.9,209.7 C359.1,217.0 358.9,224.9 361.4,229.2 C363.8,233.5 369.1,234.5 373.6,235.3 C378.1,236.1 382.9,236.2 388.2,234.0 C393.5,231.8 399.5,226.0 405.2,221.9 C410.9,217.8 416.4,213.2 422.3,209.7 C428.2,206.2 435.7,204.1 440.6,201.1 C445.5,198.1 449.6,196.1 451.6,191.4 C453.6,186.7 453.2,179.2 452.8,173.1 C452.4,167.0 450.7,158.2 449.1,154.8 C447.5,151.4 445.0,153.8 443.0,152.4 C441.0,151.0 440.3,148.3 436.9,146.3 C433.4,144.3 426.8,141.6 422.3,140.2 C417.8,138.8 415.8,136.4 410.1,137.8Z" fill="none" stroke="#3a3a3a" stroke-width="1.0"/>
<path d="M409.6,140.4 C404.2,141.8 395.5,146.0 388.8,150.8 C382.0,155.6 373.6,163.5 369.1,169.3 C364.7,175.1 363.6,179.0 362.2,185.5 C360.8,192.1 360.8,201.8 361.0,208.7 C361.1,215.7 361.0,223.2 363.3,227.2 C365.7,231.3 370.7,232.3 374.9,233.0 C379.2,233.8 383.8,233.9 388.8,231.8 C393.8,229.7 399.5,224.2 404.9,220.3 C410.3,216.5 415.6,212.0 421.2,208.7 C426.8,205.4 433.9,203.4 438.6,200.5 C443.2,197.6 447.1,195.8 449.0,191.3 C451.0,186.9 450.6,179.7 450.2,173.9 C449.8,168.1 448.2,159.8 446.6,156.6 C445.1,153.3 442.8,155.6 440.9,154.3 C438.9,152.9 438.3,150.4 435.1,148.5 C431.8,146.6 425.4,144.0 421.2,142.7 C416.9,141.3 415.0,139.1 409.6,140.4Z" fill="none" stroke="#3a3a3a" stroke-width="1.0"/>
<path d="M409.1,143.0 C404.0,144.3 395.8,148.3 389.4,152.8 C383.0,157.4 374.9,164.9 370.8,170.4 C366.6,175.9 365.5,179.5 364.2,185.8 C362.9,192.0 362.8,201.1 363.0,207.7 C363.2,214.3 363.1,221.4 365.3,225.3 C367.5,229.1 372.2,230.1 376.2,230.8 C380.3,231.5 384.6,231.6 389.4,229.6 C394.1,227.6 399.6,222.4 404.7,218.7 C409.8,215.1 414.8,210.8 420.1,207.7 C425.4,204.6 432.1,202.7 436.5,200.0 C440.9,197.2 444.6,195.5 446.4,191.3 C448.3,187.1 447.9,180.3 447.5,174.8 C447.1,169.3 445.7,161.4 444.2,158.3 C442.7,155.2 440.5,157.4 438.7,156.2 C436.9,154.9 436.3,152.5 433.2,150.7 C430.1,148.8 424.1,146.5 420.1,145.2 C416.1,143.9 414.2,141.7 409.1,143.0Z" fill="none" stroke="#3a3a3a" stroke-width="1.0"/>
<path d="M408.6,145.6 C403.8,146.8 396.0,150.6 390.0,154.9 C383.9,159.2 376.3,166.3 372.4,171.5 C368.4,176.7 367.4,180.1 366.2,186.0 C365.0,191.9 364.9,200.5 365.1,206.7 C365.2,213.0 365.1,219.7 367.2,223.3 C369.3,226.9 373.8,227.8 377.6,228.5 C381.4,229.2 385.5,229.3 390.0,227.4 C394.4,225.5 399.6,220.6 404.4,217.1 C409.3,213.7 413.9,209.7 419.0,206.7 C424.0,203.8 430.4,202.0 434.5,199.4 C438.7,196.8 442.1,195.2 443.9,191.2 C445.6,187.2 445.2,180.8 444.9,175.6 C444.5,170.5 443.1,163.0 441.7,160.1 C440.3,157.1 438.3,159.2 436.6,158.0 C434.8,156.8 434.3,154.6 431.4,152.9 C428.4,151.1 422.8,148.9 419.0,147.7 C415.2,146.5 413.4,144.4 408.6,145.6Z" fill="none" stroke="#3a3a3a" stroke-width="1.0"/>
<path d="M408.6,145.6 C403.8,146.8 396.0,150.6 390.0,154.9 C383.9,159.2 376.3,166.3 372.4,171.5 C368.4,176.7 367.4,180.1 366.2,186.0 C365.0,191.9 364.9,200.5 365.1,206.7 C365.2,213.0 365.1,219.7 367.2,223.3 C369.3,226.9 373.8,227.8 377.6,228.5 C381.4,229.2 385.5,229.3 390.0,227.4 C394.4,225.5 399.6,220.6 404.4,217.1 C409.3,213.7 413.9,209.7 419.0,206.7 C424.0,203.8 430.4,202.0 434.5,199.4 C438.7,196.8 442.1,195.2 443.9,191.2 C445.6,187.2 445.2,180.8 444.9,175.6 C444.5,170.5 443.1,163.0 441.7,160.1 C440.3,157.1 438.3,159.2 436.6,158.0 C434.8,156.8 434.3,154.6 431.4,152.9 C428.4,151.1 422.8,148.9 419.0,147.7 C415.2,146.5 413.4,144.4 408.6,145.6Z" fill="#7a7a7a" fill-opacity="0.92"/>
<path d="M408.6,145.6 C403.8,146.8 396.0,150.6 390.0,154.9 C383.9,159.2 376.3,166.3 372.4,171.5 C368.4,176.7 367.4,180.1 366.2,186.0 C365.0,191.9 364.9,200.5 365.1,206.7 C365.2,213.0 365.1,219.7 367.2,223.3 C369.3,226.9 373.8,227.8 377.6,228.5 C381.4,229.2 385.5,229.3 390.0,227.4 C394.4,225.5 399.6,220.6 404.4,217.1 C409.3,213.7 413.9,209.7 419.0,206.7 C424.0,203.8 430.4,202.0 434.5,199.4 C438.7,196.8 442.1,195.2 443.9,191.2 C445.6,187.2 445.2,180.8 444.9,175.6 C444.5,170.5 443.1,163.0 441.7,160.1 C440.3,157.1 438.3,159.2 436.6,158.0 C434.8,156.8 434.3,154.6 431.4,152.9 C428.4,151.1 422.8,148.9 419.0,147.7 C415.2,146.5 413.4,144.4 408.6,145.6Z" fill="none" stroke="#333" stroke-width="0.9"/>
<path d="M408.2,147.6 C403.6,148.8 396.2,152.4 390.4,156.5 C384.7,160.6 377.4,167.4 373.6,172.3 C369.8,177.3 368.9,180.6 367.7,186.2 C366.5,191.8 366.5,200.0 366.6,206.0 C366.8,211.9 366.7,218.3 368.7,221.8 C370.7,225.3 375.0,226.1 378.6,226.8 C382.2,227.4 386.1,227.5 390.4,225.7 C394.7,223.9 399.6,219.2 404.2,215.9 C408.8,212.6 413.3,208.8 418.1,206.0 C422.9,203.2 429.0,201.5 432.9,199.0 C436.9,196.5 440.2,194.9 441.9,191.1 C443.5,187.3 443.2,181.2 442.8,176.3 C442.5,171.3 441.2,164.2 439.8,161.4 C438.5,158.6 436.5,160.6 434.9,159.5 C433.2,158.3 432.7,156.2 429.9,154.5 C427.1,152.9 421.7,150.7 418.1,149.6 C414.5,148.4 412.8,146.5 408.2,147.6Z" fill="none" stroke="#333" stroke-width="0.9"/>
<path d="M407.8,149.6 C403.4,150.7 396.4,154.2 390.9,158.1 C385.4,162.0 378.5,168.4 374.9,173.1 C371.3,177.9 370.3,181.0 369.2,186.4 C368.1,191.7 368.1,199.6 368.2,205.2 C368.4,210.9 368.3,217.0 370.2,220.3 C372.1,223.6 376.1,224.4 379.6,225.0 C383.0,225.6 386.8,225.7 390.9,224.0 C394.9,222.3 399.6,217.8 404.0,214.7 C408.4,211.5 412.7,207.9 417.2,205.2 C421.8,202.5 427.6,200.9 431.4,198.6 C435.2,196.2 438.3,194.7 439.9,191.1 C441.5,187.5 441.1,181.7 440.8,176.9 C440.5,172.2 439.2,165.5 438.0,162.8 C436.7,160.1 434.8,162.0 433.2,160.9 C431.7,159.8 431.2,157.8 428.5,156.2 C425.9,154.6 420.7,152.6 417.2,151.5 C413.8,150.4 412.2,148.6 407.8,149.6Z" fill="none" stroke="#333" stroke-width="0.9"/>
<path d="M407.4,151.7 C403.2,152.7 396.5,155.9 391.3,159.7 C386.1,163.4 379.6,169.5 376.1,174.0 C372.7,178.5 371.8,181.5 370.8,186.5 C369.7,191.6 369.7,199.1 369.8,204.5 C370.0,209.8 369.8,215.7 371.6,218.8 C373.4,221.9 377.3,222.7 380.6,223.3 C383.9,223.9 387.5,224.0 391.3,222.3 C395.2,220.7 399.6,216.4 403.8,213.4 C408.0,210.5 412.0,207.0 416.4,204.5 C420.7,201.9 426.2,200.4 429.8,198.2 C433.4,195.9 436.4,194.5 437.9,191.0 C439.4,187.6 439.1,182.1 438.8,177.6 C438.5,173.1 437.3,166.7 436.1,164.1 C434.9,161.6 433.1,163.4 431.6,162.4 C430.1,161.3 429.6,159.4 427.1,157.9 C424.6,156.4 419.7,154.5 416.4,153.4 C413.1,152.4 411.6,150.6 407.4,151.7Z" fill="none" stroke="#333" stroke-width="0.9"/>
<path d="M407.0,153.7 C403.1,154.6 396.7,157.7 391.8,161.2 C386.8,164.8 380.6,170.6 377.4,174.8 C374.1,179.1 373.3,181.9 372.3,186.7 C371.3,191.5 371.2,198.6 371.4,203.7 C371.5,208.8 371.4,214.3 373.1,217.3 C374.8,220.3 378.5,221.0 381.6,221.5 C384.7,222.1 388.1,222.2 391.8,220.6 C395.5,219.1 399.7,215.0 403.6,212.2 C407.6,209.4 411.4,206.1 415.5,203.7 C419.6,201.3 424.9,199.9 428.3,197.7 C431.7,195.6 434.5,194.2 435.9,191.0 C437.3,187.7 437.0,182.5 436.8,178.2 C436.5,174.0 435.3,167.9 434.2,165.5 C433.0,163.1 431.4,164.8 429.9,163.8 C428.5,162.8 428.1,161.0 425.7,159.6 C423.3,158.2 418.6,156.3 415.5,155.3 C412.4,154.3 411.0,152.7 407.0,153.7Z" fill="none" stroke="#333" stroke-width="0.9"/>
<path d="M406.6,155.7 C402.9,156.6 396.9,159.5 392.2,162.8 C387.6,166.2 381.7,171.7 378.6,175.7 C375.6,179.7 374.8,182.4 373.8,186.9 C372.9,191.5 372.8,198.1 373.0,203.0 C373.1,207.8 373.0,213.0 374.6,215.8 C376.2,218.6 379.7,219.3 382.6,219.8 C385.6,220.3 388.8,220.4 392.2,218.9 C395.7,217.5 399.7,213.6 403.4,211.0 C407.2,208.3 410.8,205.2 414.7,203.0 C418.5,200.7 423.5,199.3 426.7,197.3 C429.9,195.3 432.6,194.0 433.9,190.9 C435.3,187.9 435.0,182.9 434.7,178.9 C434.5,174.9 433.4,169.1 432.3,166.8 C431.2,164.6 429.6,166.2 428.3,165.3 C426.9,164.3 426.5,162.6 424.3,161.3 C422.0,159.9 417.6,158.2 414.7,157.2 C411.7,156.3 410.4,154.7 406.6,155.7Z" fill="none" stroke="#333" stroke-width="0.9"/>
<path d="M406.3,157.7 C402.7,158.6 397.1,161.3 392.7,164.4 C388.3,167.6 382.8,172.7 379.9,176.5 C377.0,180.3 376.2,182.8 375.4,187.1 C374.5,191.4 374.4,197.7 374.5,202.2 C374.7,206.7 374.6,211.6 376.1,214.3 C377.6,216.9 380.9,217.6 383.7,218.1 C386.4,218.5 389.4,218.6 392.7,217.2 C396.0,215.9 399.7,212.3 403.2,209.8 C406.7,207.2 410.2,204.3 413.8,202.2 C417.5,200.1 422.1,198.8 425.1,196.9 C428.2,195.0 430.7,193.8 432.0,190.9 C433.2,188.0 433.0,183.3 432.7,179.5 C432.4,175.8 431.4,170.3 430.4,168.2 C429.4,166.1 427.9,167.6 426.6,166.7 C425.4,165.8 425.0,164.2 422.8,162.9 C420.7,161.7 416.6,160.0 413.8,159.2 C411.0,158.3 409.8,156.8 406.3,157.7Z" fill="none" stroke="#333" stroke-width="0.9"/>
<path d="M385.7,158.5 C390.8,157.5 398.9,156.5 404.0,157.3 C409.1,158.1 412.5,160.8 416.2,163.4 C419.9,166.0 424.6,169.4 426.0,173.1 C427.4,176.8 426.3,180.8 424.7,185.3 C423.1,189.8 420.2,195.8 416.2,199.9 C412.1,204.0 405.1,208.5 400.4,209.7 C395.7,210.9 391.0,209.2 388.2,207.2 C385.4,205.2 385.1,201.2 383.3,197.5 C381.5,193.8 379.0,189.4 377.2,185.3 C375.4,181.2 372.9,176.8 372.3,173.1 C371.7,169.4 371.4,165.8 373.6,163.4 C375.8,161.0 380.6,159.5 385.7,158.5Z" fill="#1e1a1b"/>
<ellipse cx="381" cy="172" rx="6" ry="9" fill="#444" fill-opacity="0.6"/>
<ellipse cx="438" cy="175" rx="9" ry="18" fill="#fff" fill-opacity="0.35"/>
<ellipse cx="407" cy="184" rx="4" ry="7.5" transform="rotate(30 407 184)" fill="#fff" stroke="#999" stroke-width="1.5"/>
<ellipse cx="394.5" cy="175" rx="2" ry="3.5" transform="rotate(35 394.5 175)" fill="#ddd"/>
<path d="M424.7,245.5 C419.2,245.9 411.1,246.8 405.2,251.0 C399.3,255.2 394.1,262.2 389.4,270.5 C384.7,278.8 380.0,289.7 377.2,300.9 C374.4,312.1 373.1,326.3 372.3,337.5 C371.5,348.7 370.5,360.3 372.3,368.0 C374.1,375.7 379.0,379.3 383.3,383.8 C387.6,388.3 393.4,391.6 397.9,394.8 C402.4,398.1 404.8,402.4 410.1,403.3 C415.5,404.2 423.9,402.9 430.0,400.0 C436.1,397.1 442.1,392.6 446.7,386.2 C451.3,379.8 455.2,372.0 457.6,361.9 C460.0,351.8 461.3,337.5 461.3,325.3 C461.3,313.1 459.6,298.9 457.6,288.7 C455.6,278.5 452.4,271.1 449.1,264.4 C445.9,257.7 442.2,251.7 438.1,248.5 C434.0,245.3 430.2,245.1 424.7,245.5Z" fill="none" stroke="#3a3a3a" stroke-width="1.0"/>
<path d="M424.4,248.9 C419.1,249.3 411.4,250.2 405.8,254.1 C400.1,258.1 395.1,264.8 390.7,272.8 C386.2,280.7 381.7,291.1 379.0,301.8 C376.3,312.4 375.1,326.0 374.4,336.7 C373.6,347.4 372.6,358.5 374.4,365.8 C376.1,373.2 380.8,376.6 384.9,380.9 C388.9,385.2 394.5,388.3 398.8,391.4 C403.0,394.5 405.3,398.7 410.4,399.5 C415.5,400.3 423.6,399.1 429.4,396.4 C435.2,393.6 441.0,389.3 445.4,383.2 C449.8,377.1 453.4,369.7 455.8,360.0 C458.1,350.3 459.3,336.7 459.3,325.1 C459.3,313.4 457.7,299.8 455.8,290.1 C453.8,280.4 450.8,273.3 447.7,266.9 C444.6,260.5 441.0,254.8 437.2,251.7 C433.3,248.7 429.6,248.5 424.4,248.9Z" fill="none" stroke="#3a3a3a" stroke-width="1.0"/>
<path d="M424.0,252.3 C419.1,252.7 411.7,253.5 406.3,257.3 C401.0,261.1 396.2,267.4 391.9,275.0 C387.7,282.6 383.4,292.5 380.9,302.6 C378.3,312.8 377.1,325.7 376.4,335.9 C375.7,346.1 374.7,356.6 376.4,363.6 C378.1,370.7 382.5,373.9 386.4,378.0 C390.3,382.1 395.6,385.0 399.7,388.0 C403.7,391.0 405.9,394.9 410.8,395.7 C415.6,396.5 423.3,395.3 428.9,392.7 C434.4,390.1 439.9,386.0 444.0,380.2 C448.2,374.4 451.7,367.3 453.9,358.1 C456.2,348.9 457.3,335.9 457.3,324.8 C457.3,313.7 455.8,300.8 453.9,291.5 C452.1,282.3 449.2,275.5 446.2,269.5 C443.3,263.4 439.9,257.9 436.2,255.0 C432.5,252.1 429.0,251.9 424.0,252.3Z" fill="none" stroke="#3a3a3a" stroke-width="1.0"/>
<path d="M423.7,255.7 C419.0,256.0 411.9,256.8 406.9,260.4 C401.8,264.0 397.2,270.1 393.2,277.2 C389.2,284.4 385.1,293.9 382.7,303.5 C380.2,313.1 379.2,325.5 378.5,335.1 C377.7,344.8 376.9,354.8 378.5,361.5 C380.0,368.1 384.3,371.2 388.0,375.1 C391.6,379.0 396.7,381.8 400.6,384.6 C404.4,387.4 406.5,391.2 411.1,391.9 C415.7,392.7 423.0,391.6 428.3,389.1 C433.6,386.6 438.7,382.7 442.7,377.2 C446.7,371.7 450.0,365.0 452.1,356.2 C454.2,347.4 455.3,335.1 455.3,324.6 C455.3,314.0 453.9,301.7 452.1,293.0 C450.4,284.2 447.6,277.8 444.8,272.0 C442.0,266.2 438.8,261.0 435.3,258.2 C431.8,255.5 428.4,255.3 423.7,255.7Z" fill="none" stroke="#3a3a3a" stroke-width="1.0"/>
<path d="M423.6,256.7 C418.9,257.0 412.0,257.8 407.0,261.4 C402.0,264.9 397.6,270.9 393.6,277.9 C389.6,285.0 385.7,294.3 383.2,303.8 C380.8,313.3 379.8,325.4 379.1,334.9 C378.4,344.4 377.5,354.2 379.1,360.8 C380.6,367.4 384.8,370.4 388.4,374.2 C392.0,378.0 397.0,380.8 400.8,383.6 C404.6,386.3 406.6,390.1 411.2,390.8 C415.7,391.5 422.9,390.4 428.1,388.0 C433.3,385.6 438.4,381.7 442.3,376.3 C446.2,370.9 449.5,364.2 451.6,355.6 C453.6,347.0 454.7,334.9 454.7,324.5 C454.7,314.1 453.3,302.0 451.6,293.4 C449.8,284.8 447.1,278.4 444.3,272.7 C441.6,267.0 438.5,261.9 435.0,259.2 C431.5,256.5 428.3,256.3 423.6,256.7Z" fill="#6f6f6f" fill-opacity="0.92"/>
<path d="M423.6,256.7 C418.9,257.0 412.0,257.8 407.0,261.4 C402.0,264.9 397.6,270.9 393.6,277.9 C389.6,285.0 385.7,294.3 383.2,303.8 C380.8,313.3 379.8,325.4 379.1,334.9 C378.4,344.4 377.5,354.2 379.1,360.8 C380.6,367.4 384.8,370.4 388.4,374.2 C392.0,378.0 397.0,380.8 400.8,383.6 C404.6,386.3 406.6,390.1 411.2,390.8 C415.7,391.5 422.9,390.4 428.1,388.0 C433.3,385.6 438.4,381.7 442.3,376.3 C446.2,370.9 449.5,364.2 451.6,355.6 C453.6,347.0 454.7,334.9 454.7,324.5 C454.7,314.1 453.3,302.0 451.6,293.4 C449.8,284.8 447.1,278.4 444.3,272.7 C441.6,267.0 438.5,261.9 435.0,259.2 C431.5,256.5 428.3,256.3 423.6,256.7Z" fill="none" stroke="#333" stroke-width="0.9"/>
<path d="M423.3,259.5 C418.9,259.9 412.3,260.6 407.5,264.0 C402.7,267.4 398.5,273.1 394.7,279.8 C390.9,286.6 387.1,295.4 384.8,304.5 C382.5,313.6 381.5,325.1 380.8,334.2 C380.1,343.3 379.3,352.7 380.8,359.0 C382.3,365.2 386.3,368.2 389.7,371.8 C393.2,375.4 398.0,378.1 401.6,380.7 C405.2,383.3 407.1,386.9 411.5,387.6 C415.8,388.3 422.7,387.2 427.6,384.9 C432.6,382.6 437.4,378.9 441.2,373.7 C444.9,368.6 448.0,362.2 450.0,354.0 C452.0,345.8 453.0,334.2 453.0,324.3 C453.0,314.4 451.7,302.8 450.0,294.6 C448.4,286.4 445.8,280.3 443.1,274.9 C440.5,269.4 437.5,264.5 434.2,262.0 C430.9,259.4 427.8,259.2 423.3,259.5Z" fill="none" stroke="#333" stroke-width="0.9"/>
<path d="M423.0,262.4 C418.8,262.7 412.5,263.4 408.0,266.7 C403.4,269.9 399.4,275.3 395.8,281.7 C392.1,288.2 388.5,296.6 386.3,305.2 C384.1,313.9 383.2,324.9 382.5,333.5 C381.9,342.2 381.1,351.1 382.5,357.1 C384.0,363.1 387.7,365.9 391.0,369.3 C394.3,372.8 398.9,375.3 402.3,377.8 C405.8,380.3 407.6,383.7 411.8,384.4 C415.9,385.1 422.4,384.0 427.1,381.8 C431.9,379.6 436.5,376.1 440.1,371.2 C443.6,366.3 446.6,360.2 448.5,352.4 C450.4,344.5 451.3,333.5 451.3,324.1 C451.3,314.7 450.0,303.6 448.5,295.8 C446.9,288.0 444.4,282.2 441.9,277.0 C439.4,271.8 436.5,267.2 433.4,264.7 C430.3,262.3 427.3,262.1 423.0,262.4Z" fill="none" stroke="#333" stroke-width="0.9"/>
<path d="M422.8,265.3 C418.7,265.6 412.8,266.3 408.4,269.3 C404.1,272.4 400.3,277.5 396.8,283.6 C393.4,289.7 390.0,297.8 387.9,306.0 C385.8,314.2 384.9,324.6 384.3,332.9 C383.7,341.1 382.9,349.6 384.3,355.3 C385.6,360.9 389.2,363.6 392.3,366.9 C395.5,370.1 399.8,372.6 403.1,374.9 C406.4,377.3 408.1,380.6 412.0,381.2 C416.0,381.8 422.2,380.9 426.7,378.8 C431.1,376.7 435.5,373.3 438.9,368.6 C442.3,364.0 445.1,358.2 446.9,350.8 C448.7,343.3 449.6,332.9 449.6,323.9 C449.6,314.9 448.4,304.5 446.9,297.0 C445.4,289.6 443.1,284.1 440.7,279.2 C438.3,274.2 435.6,269.8 432.6,267.5 C429.6,265.2 426.8,265.0 422.8,265.3Z" fill="none" stroke="#333" stroke-width="0.9"/>
<path d="M422.5,268.1 C418.7,268.4 413.0,269.1 408.9,272.0 C404.8,274.9 401.2,279.8 397.9,285.5 C394.7,291.3 391.4,298.9 389.4,306.7 C387.4,314.5 386.6,324.4 386.0,332.2 C385.4,340.0 384.7,348.0 386.0,353.4 C387.3,358.8 390.7,361.3 393.7,364.4 C396.6,367.5 400.7,369.8 403.8,372.1 C406.9,374.3 408.6,377.4 412.3,378.0 C416.0,378.6 421.9,377.7 426.2,375.7 C430.4,373.7 434.6,370.5 437.8,366.1 C441.0,361.7 443.7,356.2 445.4,349.2 C447.1,342.1 448.0,332.2 448.0,323.7 C448.0,315.2 446.8,305.3 445.4,298.2 C444.0,291.1 441.7,286.0 439.5,281.3 C437.2,276.6 434.6,272.4 431.8,270.2 C429.0,268.0 426.3,267.8 422.5,268.1Z" fill="none" stroke="#333" stroke-width="0.9"/>
<path d="M422.2,271.0 C418.6,271.3 413.2,271.9 409.4,274.6 C405.5,277.4 402.1,282.0 399.0,287.4 C395.9,292.9 392.8,300.1 391.0,307.4 C389.1,314.8 388.3,324.2 387.7,331.5 C387.2,338.9 386.5,346.5 387.7,351.6 C388.9,356.6 392.2,359.0 395.0,362.0 C397.8,364.9 401.6,367.1 404.6,369.2 C407.5,371.3 409.1,374.2 412.6,374.8 C416.1,375.4 421.7,374.5 425.7,372.6 C429.7,370.7 433.6,367.7 436.7,363.5 C439.7,359.4 442.2,354.2 443.8,347.6 C445.4,340.9 446.3,331.5 446.3,323.5 C446.3,315.5 445.2,306.1 443.8,299.4 C442.5,292.7 440.4,287.8 438.2,283.4 C436.1,279.0 433.7,275.0 431.0,273.0 C428.3,270.9 425.8,270.7 422.2,271.0Z" fill="none" stroke="#333" stroke-width="0.9"/>
<path d="M421.9,273.9 C418.5,274.1 413.5,274.7 409.8,277.3 C406.2,279.9 403.0,284.2 400.1,289.3 C397.2,294.5 394.3,301.3 392.5,308.2 C390.7,315.1 390.0,323.9 389.5,330.8 C389.0,337.8 388.3,344.9 389.5,349.7 C390.6,354.5 393.6,356.7 396.3,359.5 C398.9,362.3 402.6,364.3 405.3,366.3 C408.1,368.3 409.6,371.0 412.9,371.6 C416.2,372.1 421.4,371.3 425.2,369.5 C429.0,367.8 432.7,364.9 435.5,361.0 C438.4,357.1 440.8,352.2 442.3,345.9 C443.8,339.7 444.6,330.8 444.6,323.3 C444.6,315.7 443.6,306.9 442.3,300.6 C441.0,294.3 439.0,289.7 437.0,285.6 C435.0,281.4 432.7,277.7 430.2,275.7 C427.7,273.8 425.3,273.6 421.9,273.9Z" fill="none" stroke="#333" stroke-width="0.9"/>
<path d="M421.6,276.7 C418.5,277.0 413.7,277.5 410.3,279.9 C406.9,282.3 403.8,286.4 401.1,291.3 C398.4,296.1 395.7,302.4 394.1,308.9 C392.4,315.4 391.7,323.7 391.2,330.2 C390.7,336.7 390.1,343.4 391.2,347.9 C392.3,352.4 395.1,354.5 397.6,357.1 C400.1,359.6 403.5,361.6 406.1,363.4 C408.7,365.3 410.1,367.9 413.2,368.4 C416.3,368.9 421.2,368.1 424.7,366.5 C428.3,364.8 431.7,362.1 434.4,358.4 C437.1,354.8 439.3,350.2 440.7,344.3 C442.2,338.4 442.9,330.2 442.9,323.1 C442.9,316.0 441.9,307.7 440.7,301.8 C439.6,295.9 437.7,291.6 435.8,287.7 C433.9,283.8 431.8,280.3 429.4,278.5 C427.1,276.6 424.8,276.5 421.6,276.7Z" fill="none" stroke="#333" stroke-width="0.9"/>
<ellipse cx="418" cy="336" rx="25" ry="45" fill="#3a3a3a" fill-opacity="0.9"/>
<ellipse cx="404" cy="326" rx="9" ry="28" fill="#1e1a1b"/>
<ellipse cx="437" cy="342" rx="9.5" ry="38" fill="#1e1a1b"/>
<ellipse cx="420" cy="352" rx="8" ry="22" fill="#2a2a2a"/>
<ellipse cx="420" cy="322" rx="3.5" ry="17" transform="rotate(-12 420 322)" fill="#fff" stroke="#888" stroke-width="1.5"/>
<rect x="200" y="128" width="33" height="26" fill="#fff" fill-opacity="0.8"/>
<rect x="410" y="136" width="40" height="17" fill="#fff" fill-opacity="0.85"/>
<rect x="412.5" y="377.5" width="40" height="26" fill="#fff" fill-opacity="0.85"/>
<rect x="176.8" y="102.3" width="328.8" height="327.4" fill="none" stroke="#444" stroke-width="1.6"/>
<line x1="167.8" y1="133.2" x2="176.8" y2="133.2" stroke="#222" stroke-width="2.6"/>
<line x1="167.8" y1="210.2" x2="176.8" y2="210.2" stroke="#222" stroke-width="2.6"/>
<line x1="167.8" y1="297.0" x2="176.8" y2="297.0" stroke="#222" stroke-width="2.6"/>
<line x1="167.8" y1="359.5" x2="176.8" y2="359.5" stroke="#222" stroke-width="2.6"/>
<line x1="167.8" y1="427.5" x2="176.8" y2="427.5" stroke="#222" stroke-width="2.6"/>
<line x1="171.8" y1="187.0" x2="176.8" y2="187.0" stroke="#222" stroke-width="1.3"/>
<line x1="171.8" y1="173.5" x2="176.8" y2="173.5" stroke="#222" stroke-width="1.3"/>
<line x1="171.8" y1="163.8" x2="176.8" y2="163.8" stroke="#222" stroke-width="1.3"/>
<line x1="171.8" y1="156.4" x2="176.8" y2="156.4" stroke="#222" stroke-width="1.3"/>
<line x1="171.8" y1="150.3" x2="176.8" y2="150.3" stroke="#222" stroke-width="1.3"/>
<line x1="171.8" y1="145.1" x2="176.8" y2="145.1" stroke="#222" stroke-width="1.3"/>
<line x1="171.8" y1="140.7" x2="176.8" y2="140.7" stroke="#222" stroke-width="1.3"/>
<line x1="171.8" y1="136.7" x2="176.8" y2="136.7" stroke="#222" stroke-width="1.3"/>
<line x1="171.8" y1="270.9" x2="176.8" y2="270.9" stroke="#222" stroke-width="1.3"/>
<line x1="171.8" y1="255.6" x2="176.8" y2="255.6" stroke="#222" stroke-width="1.3"/>
<line x1="171.8" y1="244.7" x2="176.8" y2="244.7" stroke="#222" stroke-width="1.3"/>
<line x1="171.8" y1="236.3" x2="176.8" y2="236.3" stroke="#222" stroke-width="1.3"/>
<line x1="171.8" y1="229.5" x2="176.8" y2="229.5" stroke="#222" stroke-width="1.3"/>
<line x1="171.8" y1="223.6" x2="176.8" y2="223.6" stroke="#222" stroke-width="1.3"/>
<line x1="171.8" y1="218.6" x2="176.8" y2="218.6" stroke="#222" stroke-width="1.3"/>
<line x1="171.8" y1="214.2" x2="176.8" y2="214.2" stroke="#222" stroke-width="1.3"/>
<line x1="171.8" y1="110.0" x2="176.8" y2="110.0" stroke="#222" stroke-width="1.3"/>
<line x1="171.8" y1="347.9" x2="176.8" y2="347.9" stroke="#222" stroke-width="1.3"/>
<line x1="171.8" y1="337.6" x2="176.8" y2="337.6" stroke="#222" stroke-width="1.3"/>
<line x1="171.8" y1="329.2" x2="176.8" y2="329.2" stroke="#222" stroke-width="1.3"/>
<line x1="171.8" y1="322.2" x2="176.8" y2="322.2" stroke="#222" stroke-width="1.3"/>
<line x1="171.8" y1="316.4" x2="176.8" y2="316.4" stroke="#222" stroke-width="1.3"/>
<line x1="171.8" y1="311.5" x2="176.8" y2="311.5" stroke="#222" stroke-width="1.3"/>
<line x1="171.8" y1="307.2" x2="176.8" y2="307.2" stroke="#222" stroke-width="1.3"/>
<line x1="171.8" y1="303.4" x2="176.8" y2="303.4" stroke="#222" stroke-width="1.3"/>
<line x1="171.8" y1="300.0" x2="176.8" y2="300.0" stroke="#222" stroke-width="1.3"/>
<line x1="171.8" y1="372.2" x2="176.8" y2="372.2" stroke="#222" stroke-width="1.3"/>
<line x1="171.8" y1="383.3" x2="176.8" y2="383.3" stroke="#222" stroke-width="1.3"/>
<line x1="171.8" y1="392.5" x2="176.8" y2="392.5" stroke="#222" stroke-width="1.3"/>
<line x1="171.8" y1="400.0" x2="176.8" y2="400.0" stroke="#222" stroke-width="1.3"/>
<line x1="171.8" y1="406.4" x2="176.8" y2="406.4" stroke="#222" stroke-width="1.3"/>
<line x1="171.8" y1="411.7" x2="176.8" y2="411.7" stroke="#222" stroke-width="1.3"/>
<line x1="171.8" y1="416.4" x2="176.8" y2="416.4" stroke="#222" stroke-width="1.3"/>
<line x1="171.8" y1="420.5" x2="176.8" y2="420.5" stroke="#222" stroke-width="1.3"/>
<line x1="171.8" y1="424.2" x2="176.8" y2="424.2" stroke="#222" stroke-width="1.3"/>
<rect x="168.8" y="353.0" width="8" height="14.0" fill="#222"/>
<line x1="234.0" y1="429.7" x2="234.0" y2="438.7" stroke="#222" stroke-width="2.6"/>
<line x1="318.0" y1="429.7" x2="318.0" y2="438.7" stroke="#222" stroke-width="2.6"/>
<line x1="398.0" y1="429.7" x2="398.0" y2="438.7" stroke="#222" stroke-width="2.6"/>
<line x1="473.5" y1="429.7" x2="473.5" y2="438.7" stroke="#222" stroke-width="2.6"/>
<line x1="342.1" y1="429.7" x2="342.1" y2="434.7" stroke="#222" stroke-width="1.3"/>
<line x1="356.2" y1="429.7" x2="356.2" y2="434.7" stroke="#222" stroke-width="1.3"/>
<line x1="366.2" y1="429.7" x2="366.2" y2="434.7" stroke="#222" stroke-width="1.3"/>
<line x1="373.9" y1="429.7" x2="373.9" y2="434.7" stroke="#222" stroke-width="1.3"/>
<line x1="380.3" y1="429.7" x2="380.3" y2="434.7" stroke="#222" stroke-width="1.3"/>
<line x1="385.6" y1="429.7" x2="385.6" y2="434.7" stroke="#222" stroke-width="1.3"/>
<line x1="390.2" y1="429.7" x2="390.2" y2="434.7" stroke="#222" stroke-width="1.3"/>
<line x1="394.3" y1="429.7" x2="394.3" y2="434.7" stroke="#222" stroke-width="1.3"/>
<line x1="420.7" y1="429.7" x2="420.7" y2="434.7" stroke="#222" stroke-width="1.3"/>
<line x1="434.0" y1="429.7" x2="434.0" y2="434.7" stroke="#222" stroke-width="1.3"/>
<line x1="443.5" y1="429.7" x2="443.5" y2="434.7" stroke="#222" stroke-width="1.3"/>
<line x1="450.8" y1="429.7" x2="450.8" y2="434.7" stroke="#222" stroke-width="1.3"/>
<line x1="456.8" y1="429.7" x2="456.8" y2="434.7" stroke="#222" stroke-width="1.3"/>
<line x1="461.8" y1="429.7" x2="461.8" y2="434.7" stroke="#222" stroke-width="1.3"/>
<line x1="466.2" y1="429.7" x2="466.2" y2="434.7" stroke="#222" stroke-width="1.3"/>
<line x1="470.0" y1="429.7" x2="470.0" y2="434.7" stroke="#222" stroke-width="1.3"/>
<line x1="496.2" y1="429.7" x2="496.2" y2="434.7" stroke="#222" stroke-width="1.3"/>
<line x1="249.6" y1="429.7" x2="249.6" y2="434.7" stroke="#222" stroke-width="1.3"/>
<line x1="263.4" y1="429.7" x2="263.4" y2="434.7" stroke="#222" stroke-width="1.3"/>
<line x1="274.7" y1="429.7" x2="274.7" y2="434.7" stroke="#222" stroke-width="1.3"/>
<line x1="284.1" y1="429.7" x2="284.1" y2="434.7" stroke="#222" stroke-width="1.3"/>
<line x1="291.9" y1="429.7" x2="291.9" y2="434.7" stroke="#222" stroke-width="1.3"/>
<line x1="298.5" y1="429.7" x2="298.5" y2="434.7" stroke="#222" stroke-width="1.3"/>
<line x1="304.3" y1="429.7" x2="304.3" y2="434.7" stroke="#222" stroke-width="1.3"/>
<line x1="309.4" y1="429.7" x2="309.4" y2="434.7" stroke="#222" stroke-width="1.3"/>
<line x1="313.9" y1="429.7" x2="313.9" y2="434.7" stroke="#222" stroke-width="1.3"/>
<line x1="222.3" y1="429.7" x2="222.3" y2="434.7" stroke="#222" stroke-width="1.3"/>
<line x1="212.0" y1="429.7" x2="212.0" y2="434.7" stroke="#222" stroke-width="1.3"/>
<line x1="203.4" y1="429.7" x2="203.4" y2="434.7" stroke="#222" stroke-width="1.3"/>
<line x1="196.4" y1="429.7" x2="196.4" y2="434.7" stroke="#222" stroke-width="1.3"/>
<line x1="190.6" y1="429.7" x2="190.6" y2="434.7" stroke="#222" stroke-width="1.3"/>
<line x1="185.6" y1="429.7" x2="185.6" y2="434.7" stroke="#222" stroke-width="1.3"/>
<line x1="181.3" y1="429.7" x2="181.3" y2="434.7" stroke="#222" stroke-width="1.3"/>
<rect x="211.0" y="429.7" width="2.4" height="8.5" fill="#222"/>
<rect x="213.9" y="429.7" width="2.4" height="6" fill="#222"/>
<rect x="216.8" y="429.7" width="2.4" height="8.5" fill="#222"/>
<rect x="219.7" y="429.7" width="2.4" height="8.5" fill="#222"/>
<rect x="222.6" y="429.7" width="2.4" height="6" fill="#222"/>
<rect x="225.5" y="429.7" width="2.4" height="8.5" fill="#222"/>
<rect x="228.4" y="429.7" width="2.4" height="8.5" fill="#222"/>
<rect x="231.3" y="429.7" width="2.4" height="6" fill="#222"/>
<rect x="234.2" y="429.7" width="2.4" height="8.5" fill="#222"/>
<rect x="237.1" y="429.7" width="2.4" height="8.5" fill="#222"/>
<rect x="240.0" y="429.7" width="2.4" height="6" fill="#222"/>
<rect x="242.9" y="429.7" width="2.4" height="8.5" fill="#222"/>
<rect x="245.8" y="429.7" width="2.4" height="8.5" fill="#222"/>
<rect x="211.0" y="429.7" width="36.0" height="4.5" fill="#222"/>
<line x1="337.7" y1="102.3" x2="337.7" y2="429.7" stroke="#2a2a2a" stroke-width="2.3"/>
<line x1="176.8" y1="242.9" x2="505.6" y2="242.9" stroke="#2a2a2a" stroke-width="2.3"/>
<text transform="translate(182.36,125.90) scale(1.0900,1)" font-size="14.40" fill="#2a2a2a">Q1</text>
<text transform="translate(182.70,143.80) scale(1.0900,1)" font-size="14.40" fill="#2a2a2a">6.3459</text>
<text transform="translate(448.95,126.10) scale(1.0900,1)" font-size="14.40" fill="#2a2a2a">Q2</text>
<text transform="translate(413.15,143.90) scale(1.0900,1)" font-size="14.40" fill="#2a2a2a">29.4697</text>
<text transform="translate(182.26,396.10) scale(1.0900,1)" font-size="14.40" fill="#2a2a2a">Q4</text>
<text transform="translate(182.49,414.30) scale(1.0900,1)" font-size="14.40" fill="#2a2a2a">0.4577</text>
<text transform="translate(448.85,396.10) scale(1.0900,1)" font-size="14.40" fill="#2a2a2a">Q3</text>
<text transform="translate(413.15,414.30) scale(1.0900,1)" font-size="14.40" fill="#2a2a2a">63.7267</text>
<text transform="translate(139.20,141.50) scale(1.0300,1)" font-size="14.00" fill="#2a2a2a">10</text>
<text transform="translate(155.22,133.10) scale(0.8200,1)" font-size="14.00" fill="#2a2a2a">5</text>
<text transform="translate(139.20,218.40) scale(1.0300,1)" font-size="14.00" fill="#2a2a2a">10</text>
<text transform="translate(155.41,210.00) scale(0.8200,1)" font-size="14.00" fill="#2a2a2a">4</text>
<text transform="translate(139.20,305.20) scale(1.0300,1)" font-size="14.00" fill="#2a2a2a">10</text>
<text transform="translate(155.24,296.80) scale(0.8200,1)" font-size="14.00" fill="#2a2a2a">3</text>
<text x="151.10" y="366.90" font-size="14.00" text-anchor="middle" fill="#2a2a2a">0</text>
<text transform="translate(132.76,427.40) scale(1.0300,1)" font-size="14.00" fill="#2a2a2a">-10</text>
<text transform="translate(153.60,419.00) scale(0.8200,1)" font-size="14.00" fill="#2a2a2a">3</text>
<text x="234.00" y="459.70" font-size="14.00" text-anchor="middle" fill="#2a2a2a">0</text>
<text transform="translate(316.10,459.70) scale(1.0300,1)" font-size="14.00" fill="#2a2a2a">10</text>
<text transform="translate(332.14,451.30) scale(0.8200,1)" font-size="14.00" fill="#2a2a2a">3</text>
<text transform="translate(396.50,459.70) scale(1.0300,1)" font-size="14.00" fill="#2a2a2a">10</text>
<text transform="translate(412.71,451.30) scale(0.8200,1)" font-size="14.00" fill="#2a2a2a">4</text>
<text transform="translate(472.00,459.70) scale(1.0300,1)" font-size="14.00" fill="#2a2a2a">10</text>
<text transform="translate(488.02,451.30) scale(0.8200,1)" font-size="14.00" fill="#2a2a2a">5</text>
<line x1="117.4" y1="679" x2="117.4" y2="1057.5" stroke="#231f20" stroke-width="2.6"/>
<path d="M112.80000000000001,685 L117.4,678 L122.0,685" fill="none" stroke="#231f20" stroke-width="2.2"/>
<line x1="148.2" y1="1058" x2="504.5" y2="1058" stroke="#231f20" stroke-width="2.6"/>
<path d="M498.5,1053.4 L505.5,1058 L498.5,1062.6" fill="none" stroke="#231f20" stroke-width="2.2"/>
<text transform="translate(101.06,1015.00) rotate(-90) scale(0.9441,1)" font-size="45.21" font-weight="normal" fill="#231f20" stroke="#fff" stroke-width="0.7">Mac/Gr1/B220</text>
<text transform="translate(232.08,1112.38) scale(0.9658,1)" font-size="43.30" font-weight="normal" fill="#231f20" stroke="#fff" stroke-width="0.7">CD3/B220</text>
<rect x="301.0" y="802.7" width="1.5" height="1.5" fill="#2a2a2a"/>
<rect x="295.1" y="836.6" width="1.5" height="1.5" fill="#2a2a2a"/>
<rect x="313.8" y="794.3" width="1.5" height="1.5" fill="#2a2a2a"/>
<rect x="318.6" y="793.9" width="1.5" height="1.5" fill="#2a2a2a"/>
<rect x="267.7" y="858.2" width="1.5" height="1.5" fill="#2a2a2a"/>
<rect x="313.0" y="761.7" width="1.5" height="1.5" fill="#2a2a2a"/>
<rect x="330.2" y="813.8" width="1.5" height="1.5" fill="#2a2a2a"/>
<rect x="256.2" y="864.4" width="1.5" height="1.5" fill="#2a2a2a"/>
<rect x="309.3" y="835.7" width="1.5" height="1.5" fill="#2a2a2a"/>
<rect x="305.5" y="794.0" width="1.5" height="1.5" fill="#2a2a2a"/>
<rect x="256.7" y="838.9" width="1.5" height="1.5" fill="#2a2a2a"/>
<rect x="300.8" y="788.5" width="1.5" height="1.5" fill="#2a2a2a"/>
<rect x="309.8" y="803.1" width="1.5" height="1.5" fill="#2a2a2a"/>
<rect x="318.9" y="785.2" width="1.5" height="1.5" fill="#2a2a2a"/>
<rect x="299.0" y="714.4" width="1.5" height="1.5" fill="#2a2a2a"/>
<rect x="288.1" y="827.0" width="1.5" height="1.5" fill="#2a2a2a"/>
<rect x="337.4" y="785.4" width="1.5" height="1.5" fill="#2a2a2a"/>
<rect x="296.6" y="863.3" width="1.5" height="1.5" fill="#2a2a2a"/>
<rect x="290.9" y="829.4" width="1.5" height="1.5" fill="#2a2a2a"/>
<rect x="334.4" y="771.6" width="1.5" height="1.5" fill="#2a2a2a"/>
<rect x="305.8" y="796.9" width="1.5" height="1.5" fill="#2a2a2a"/>
<rect x="303.2" y="845.2" width="1.5" height="1.5" fill="#2a2a2a"/>
<rect x="283.9" y="819.9" width="1.5" height="1.5" fill="#2a2a2a"/>
<rect x="270.5" y="819.9" width="1.5" height="1.5" fill="#2a2a2a"/>
<rect x="316.0" y="788.9" width="1.5" height="1.5" fill="#2a2a2a"/>
<rect x="314.9" y="738.0" width="1.5" height="1.5" fill="#2a2a2a"/>
<rect x="321.3" y="738.2" width="1.5" height="1.5" fill="#2a2a2a"/>
<rect x="280.5" y="777.8" width="1.5" height="1.5" fill="#2a2a2a"/>
<rect x="288.8" y="834.4" width="1.5" height="1.5" fill="#2a2a2a"/>
<rect x="302.3" y="784.1" width="1.5" height="1.5" fill="#2a2a2a"/>
<rect x="315.2" y="863.3" width="1.5" height="1.5" fill="#2a2a2a"/>
<rect x="300.2" y="814.6" width="1.5" height="1.5" fill="#2a2a2a"/>
<rect x="334.7" y="810.7" width="1.5" height="1.5" fill="#2a2a2a"/>
<rect x="298.9" y="816.7" width="1.5" height="1.5" fill="#2a2a2a"/>
<rect x="327.0" y="826.8" width="1.5" height="1.5" fill="#2a2a2a"/>
<rect x="292.4" y="757.8" width="1.5" height="1.5" fill="#2a2a2a"/>
<rect x="302.9" y="841.3" width="1.5" height="1.5" fill="#2a2a2a"/>
<rect x="269.5" y="758.9" width="1.5" height="1.5" fill="#2a2a2a"/>
<rect x="299.3" y="722.5" width="1.5" height="1.5" fill="#2a2a2a"/>
<rect x="292.7" y="782.5" width="1.5" height="1.5" fill="#2a2a2a"/>
<rect x="312.6" y="771.9" width="1.5" height="1.5" fill="#2a2a2a"/>
<rect x="275.3" y="784.2" width="1.5" height="1.5" fill="#2a2a2a"/>
<rect x="298.6" y="773.4" width="1.5" height="1.5" fill="#2a2a2a"/>
<rect x="300.3" y="830.0" width="1.5" height="1.5" fill="#2a2a2a"/>
<rect x="333.2" y="868.2" width="1.5" height="1.5" fill="#2a2a2a"/>
<rect x="278.1" y="783.2" width="1.5" height="1.5" fill="#2a2a2a"/>
<rect x="230.5" y="876.0" width="1.5" height="1.5" fill="#2a2a2a"/>
<rect x="279.7" y="798.7" width="1.5" height="1.5" fill="#2a2a2a"/>
<rect x="314.6" y="745.7" width="1.5" height="1.5" fill="#2a2a2a"/>
<rect x="313.0" y="798.9" width="1.5" height="1.5" fill="#2a2a2a"/>
<rect x="248.9" y="811.7" width="1.5" height="1.5" fill="#2a2a2a"/>
<rect x="333.4" y="725.3" width="1.5" height="1.5" fill="#2a2a2a"/>
<rect x="322.6" y="808.4" width="1.5" height="1.5" fill="#2a2a2a"/>
<rect x="313.3" y="817.7" width="1.5" height="1.5" fill="#2a2a2a"/>
<rect x="336.5" y="791.1" width="1.5" height="1.5" fill="#2a2a2a"/>
<rect x="324.5" y="783.6" width="1.5" height="1.5" fill="#2a2a2a"/>
<rect x="320.4" y="767.4" width="1.5" height="1.5" fill="#2a2a2a"/>
<rect x="297.0" y="869.2" width="1.5" height="1.5" fill="#2a2a2a"/>
<rect x="312.5" y="793.7" width="1.5" height="1.5" fill="#2a2a2a"/>
<rect x="267.9" y="768.4" width="1.5" height="1.5" fill="#2a2a2a"/>
<rect x="305.4" y="837.6" width="1.5" height="1.5" fill="#2a2a2a"/>
<rect x="311.9" y="821.0" width="1.5" height="1.5" fill="#2a2a2a"/>
<rect x="298.8" y="854.1" width="1.5" height="1.5" fill="#2a2a2a"/>
<rect x="289.1" y="778.0" width="1.5" height="1.5" fill="#2a2a2a"/>
<rect x="324.9" y="802.5" width="1.5" height="1.5" fill="#2a2a2a"/>
<rect x="292.2" y="777.0" width="1.5" height="1.5" fill="#2a2a2a"/>
<rect x="259.7" y="880.6" width="1.5" height="1.5" fill="#2a2a2a"/>
<rect x="265.2" y="834.8" width="1.5" height="1.5" fill="#2a2a2a"/>
<rect x="265.8" y="869.5" width="1.5" height="1.5" fill="#2a2a2a"/>
<rect x="253.0" y="884.3" width="1.5" height="1.5" fill="#2a2a2a"/>
<rect x="259.5" y="856.6" width="1.5" height="1.5" fill="#2a2a2a"/>
<rect x="269.2" y="898.0" width="1.5" height="1.5" fill="#2a2a2a"/>
<rect x="255.8" y="876.0" width="1.5" height="1.5" fill="#2a2a2a"/>
<rect x="254.1" y="922.9" width="1.5" height="1.5" fill="#2a2a2a"/>
<rect x="257.6" y="894.9" width="1.5" height="1.5" fill="#2a2a2a"/>
<rect x="256.2" y="885.3" width="1.5" height="1.5" fill="#2a2a2a"/>
<rect x="282.0" y="801.5" width="1.5" height="1.5" fill="#2a2a2a"/>
<rect x="258.1" y="877.5" width="1.5" height="1.5" fill="#2a2a2a"/>
<rect x="261.2" y="848.3" width="1.5" height="1.5" fill="#2a2a2a"/>
<rect x="281.4" y="867.0" width="1.5" height="1.5" fill="#2a2a2a"/>
<rect x="247.2" y="886.4" width="1.5" height="1.5" fill="#2a2a2a"/>
<rect x="246.5" y="893.8" width="1.5" height="1.5" fill="#2a2a2a"/>
<rect x="256.8" y="868.6" width="1.5" height="1.5" fill="#2a2a2a"/>
<rect x="273.3" y="867.9" width="1.5" height="1.5" fill="#2a2a2a"/>
<rect x="249.5" y="822.6" width="1.5" height="1.5" fill="#2a2a2a"/>
<rect x="272.6" y="883.5" width="1.5" height="1.5" fill="#2a2a2a"/>
<rect x="254.7" y="886.5" width="1.5" height="1.5" fill="#2a2a2a"/>
<rect x="266.5" y="881.2" width="1.5" height="1.5" fill="#2a2a2a"/>
<rect x="241.7" y="857.4" width="1.5" height="1.5" fill="#2a2a2a"/>
<rect x="270.1" y="883.3" width="1.5" height="1.5" fill="#2a2a2a"/>
<rect x="269.9" y="803.6" width="1.5" height="1.5" fill="#2a2a2a"/>
<rect x="263.5" y="877.3" width="1.5" height="1.5" fill="#2a2a2a"/>
<rect x="285.0" y="841.2" width="1.5" height="1.5" fill="#2a2a2a"/>
<rect x="259.0" y="865.9" width="1.5" height="1.5" fill="#2a2a2a"/>
<rect x="270.0" y="853.9" width="1.5" height="1.5" fill="#2a2a2a"/>
<rect x="272.3" y="845.3" width="1.5" height="1.5" fill="#2a2a2a"/>
<rect x="264.4" y="851.8" width="1.5" height="1.5" fill="#2a2a2a"/>
<rect x="263.4" y="847.7" width="1.5" height="1.5" fill="#2a2a2a"/>
<rect x="247.6" y="892.3" width="1.5" height="1.5" fill="#2a2a2a"/>
<rect x="264.7" y="851.0" width="1.5" height="1.5" fill="#2a2a2a"/>
<rect x="263.8" y="889.8" width="1.5" height="1.5" fill="#2a2a2a"/>
<rect x="253.2" y="862.2" width="1.5" height="1.5" fill="#2a2a2a"/>
<rect x="266.9" y="878.2" width="1.5" height="1.5" fill="#2a2a2a"/>
<rect x="259.0" y="812.3" width="1.5" height="1.5" fill="#2a2a2a"/>
<rect x="273.2" y="873.2" width="1.5" height="1.5" fill="#2a2a2a"/>
<rect x="262.1" y="858.0" width="1.5" height="1.5" fill="#2a2a2a"/>
<rect x="264.4" y="854.4" width="1.5" height="1.5" fill="#2a2a2a"/>
<rect x="252.8" y="846.5" width="1.5" height="1.5" fill="#2a2a2a"/>
<rect x="256.6" y="849.7" width="1.5" height="1.5" fill="#2a2a2a"/>
<rect x="251.6" y="880.9" width="1.5" height="1.5" fill="#2a2a2a"/>
<rect x="250.2" y="881.5" width="1.5" height="1.5" fill="#2a2a2a"/>
<rect x="252.9" y="873.8" width="1.5" height="1.5" fill="#2a2a2a"/>
<rect x="274.4" y="870.1" width="1.5" height="1.5" fill="#2a2a2a"/>
<rect x="255.4" y="866.2" width="1.5" height="1.5" fill="#2a2a2a"/>
<rect x="263.3" y="821.7" width="1.5" height="1.5" fill="#2a2a2a"/>
<rect x="256.5" y="869.1" width="1.5" height="1.5" fill="#2a2a2a"/>
<rect x="257.8" y="867.0" width="1.5" height="1.5" fill="#2a2a2a"/>
<rect x="268.6" y="884.2" width="1.5" height="1.5" fill="#2a2a2a"/>
<rect x="270.2" y="879.7" width="1.5" height="1.5" fill="#2a2a2a"/>
<rect x="259.4" y="864.5" width="1.5" height="1.5" fill="#2a2a2a"/>
<rect x="259.6" y="857.2" width="1.5" height="1.5" fill="#2a2a2a"/>
<rect x="260.4" y="821.9" width="1.5" height="1.5" fill="#2a2a2a"/>
<rect x="259.0" y="864.4" width="1.5" height="1.5" fill="#2a2a2a"/>
<rect x="253.2" y="864.4" width="1.5" height="1.5" fill="#2a2a2a"/>
<rect x="266.6" y="860.9" width="1.5" height="1.5" fill="#2a2a2a"/>
<rect x="280.7" y="799.8" width="1.5" height="1.5" fill="#2a2a2a"/>
<rect x="339.6" y="939.8" width="1.5" height="1.5" fill="#2a2a2a"/>
<rect x="270.0" y="901.9" width="1.5" height="1.5" fill="#2a2a2a"/>
<rect x="330.4" y="895.5" width="1.5" height="1.5" fill="#2a2a2a"/>
<rect x="337.0" y="905.6" width="1.5" height="1.5" fill="#2a2a2a"/>
<rect x="320.5" y="891.2" width="1.5" height="1.5" fill="#2a2a2a"/>
<rect x="332.8" y="892.7" width="1.5" height="1.5" fill="#2a2a2a"/>
<rect x="324.5" y="892.3" width="1.5" height="1.5" fill="#2a2a2a"/>
<rect x="275.1" y="899.5" width="1.5" height="1.5" fill="#2a2a2a"/>
<rect x="324.0" y="911.3" width="1.5" height="1.5" fill="#2a2a2a"/>
<rect x="302.5" y="899.5" width="1.5" height="1.5" fill="#2a2a2a"/>
<rect x="332.3" y="902.2" width="1.5" height="1.5" fill="#2a2a2a"/>
<rect x="337.1" y="922.9" width="1.5" height="1.5" fill="#2a2a2a"/>
<rect x="338.4" y="912.2" width="1.5" height="1.5" fill="#2a2a2a"/>
<rect x="307.6" y="889.3" width="1.5" height="1.5" fill="#2a2a2a"/>
<rect x="337.8" y="886.3" width="1.5" height="1.5" fill="#2a2a2a"/>
<rect x="283.7" y="885.0" width="1.5" height="1.5" fill="#2a2a2a"/>
<rect x="306.3" y="889.1" width="1.5" height="1.5" fill="#2a2a2a"/>
<rect x="324.6" y="888.8" width="1.5" height="1.5" fill="#2a2a2a"/>
<rect x="298.3" y="919.6" width="1.5" height="1.5" fill="#2a2a2a"/>
<rect x="308.3" y="903.3" width="1.5" height="1.5" fill="#2a2a2a"/>
<rect x="319.7" y="895.3" width="1.5" height="1.5" fill="#2a2a2a"/>
<rect x="326.5" y="889.6" width="1.5" height="1.5" fill="#2a2a2a"/>
<rect x="294.7" y="888.6" width="1.5" height="1.5" fill="#2a2a2a"/>
<rect x="371.5" y="847.2" width="1.5" height="1.5" fill="#2a2a2a"/>
<rect x="384.2" y="849.8" width="1.5" height="1.5" fill="#2a2a2a"/>
<rect x="354.5" y="816.6" width="1.5" height="1.5" fill="#2a2a2a"/>
<rect x="382.7" y="866.2" width="1.5" height="1.5" fill="#2a2a2a"/>
<rect x="369.3" y="838.0" width="1.5" height="1.5" fill="#2a2a2a"/>
<rect x="392.6" y="845.6" width="1.5" height="1.5" fill="#2a2a2a"/>
<rect x="388.2" y="868.3" width="1.5" height="1.5" fill="#2a2a2a"/>
<rect x="359.4" y="830.6" width="1.5" height="1.5" fill="#2a2a2a"/>
<rect x="354.2" y="813.1" width="1.5" height="1.5" fill="#2a2a2a"/>
<rect x="372.5" y="867.7" width="1.5" height="1.5" fill="#2a2a2a"/>
<rect x="398.5" y="794.5" width="1.5" height="1.5" fill="#2a2a2a"/>
<rect x="357.9" y="863.1" width="1.5" height="1.5" fill="#2a2a2a"/>
<rect x="403.6" y="849.2" width="1.5" height="1.5" fill="#2a2a2a"/>
<rect x="353.1" y="830.8" width="1.5" height="1.5" fill="#2a2a2a"/>
<rect x="357.5" y="810.7" width="1.5" height="1.5" fill="#2a2a2a"/>
<rect x="405.0" y="820.0" width="1.5" height="1.5" fill="#2a2a2a"/>
<rect x="398.1" y="858.4" width="1.5" height="1.5" fill="#2a2a2a"/>
<rect x="358.5" y="861.4" width="1.5" height="1.5" fill="#2a2a2a"/>
<rect x="407.7" y="869.9" width="1.5" height="1.5" fill="#2a2a2a"/>
<rect x="399.8" y="848.9" width="1.5" height="1.5" fill="#2a2a2a"/>
<rect x="383.4" y="837.0" width="1.5" height="1.5" fill="#2a2a2a"/>
<rect x="377.3" y="822.2" width="1.5" height="1.5" fill="#2a2a2a"/>
<rect x="365.2" y="876.5" width="1.5" height="1.5" fill="#2a2a2a"/>
<rect x="416.0" y="870.2" width="1.5" height="1.5" fill="#2a2a2a"/>
<rect x="379.2" y="782.9" width="1.5" height="1.5" fill="#2a2a2a"/>
<rect x="414.4" y="848.1" width="1.5" height="1.5" fill="#2a2a2a"/>
<rect x="371.3" y="800.3" width="1.5" height="1.5" fill="#2a2a2a"/>
<rect x="370.7" y="801.2" width="1.5" height="1.5" fill="#2a2a2a"/>
<rect x="373.6" y="863.7" width="1.5" height="1.5" fill="#2a2a2a"/>
<rect x="372.7" y="856.2" width="1.5" height="1.5" fill="#2a2a2a"/>
<rect x="357.6" y="772.3" width="1.5" height="1.5" fill="#2a2a2a"/>
<rect x="367.9" y="814.5" width="1.5" height="1.5" fill="#2a2a2a"/>
<rect x="376.8" y="920.7" width="1.5" height="1.5" fill="#2a2a2a"/>
<rect x="400.2" y="910.8" width="1.5" height="1.5" fill="#2a2a2a"/>
<rect x="392.5" y="942.1" width="1.5" height="1.5" fill="#2a2a2a"/>
<rect x="407.3" y="923.2" width="1.5" height="1.5" fill="#2a2a2a"/>
<rect x="397.3" y="923.6" width="1.5" height="1.5" fill="#2a2a2a"/>
<rect x="394.1" y="933.8" width="1.5" height="1.5" fill="#2a2a2a"/>
<rect x="393.3" y="896.1" width="1.5" height="1.5" fill="#2a2a2a"/>
<rect x="394.6" y="914.3" width="1.5" height="1.5" fill="#2a2a2a"/>
<rect x="406.7" y="917.7" width="1.5" height="1.5" fill="#2a2a2a"/>
<rect x="397.7" y="951.1" width="1.5" height="1.5" fill="#2a2a2a"/>
<rect x="376.2" y="911.5" width="1.5" height="1.5" fill="#2a2a2a"/>
<rect x="369.6" y="896.3" width="1.5" height="1.5" fill="#2a2a2a"/>
<rect x="361.2" y="929.4" width="1.5" height="1.5" fill="#2a2a2a"/>
<rect x="383.5" y="902.6" width="1.5" height="1.5" fill="#2a2a2a"/>
<rect x="368.3" y="932.4" width="1.5" height="1.5" fill="#2a2a2a"/>
<rect x="381.0" y="920.6" width="1.5" height="1.5" fill="#2a2a2a"/>
<rect x="400.9" y="941.3" width="1.5" height="1.5" fill="#2a2a2a"/>
<rect x="429.9" y="937.4" width="1.5" height="1.5" fill="#2a2a2a"/>
<rect x="397.6" y="927.2" width="1.5" height="1.5" fill="#2a2a2a"/>
<rect x="427.4" y="942.1" width="1.5" height="1.5" fill="#2a2a2a"/>
<rect x="389.4" y="930.5" width="1.5" height="1.5" fill="#2a2a2a"/>
<rect x="400.2" y="925.6" width="1.5" height="1.5" fill="#2a2a2a"/>
<rect x="386.0" y="909.1" width="1.5" height="1.5" fill="#2a2a2a"/>
<rect x="385.4" y="906.5" width="1.5" height="1.5" fill="#2a2a2a"/>
<rect x="417.0" y="931.4" width="1.5" height="1.5" fill="#2a2a2a"/>
<rect x="373.3" y="941.7" width="1.5" height="1.5" fill="#2a2a2a"/>
<rect x="411.1" y="902.1" width="1.5" height="1.5" fill="#2a2a2a"/>
<rect x="428.1" y="934.7" width="1.5" height="1.5" fill="#2a2a2a"/>
<rect x="432.2" y="910.2" width="1.5" height="1.5" fill="#2a2a2a"/>
<rect x="404.6" y="930.1" width="1.5" height="1.5" fill="#2a2a2a"/>
<path d="M204.7,729.9 C203.6,727.0 200.5,722.6 200.9,717.4 C201.3,712.2 203.0,703.4 207.2,698.7 C211.4,694.0 218.6,691.3 225.9,689.4 C233.2,687.5 238.3,687.9 250.8,687.5 C263.3,687.1 288.2,687.1 300.7,686.9 C313.2,686.7 319.7,684.2 325.7,686.2 C331.7,688.2 335.0,693.5 336.9,698.7 C338.8,703.9 338.8,711.2 336.9,717.4 C335.0,723.6 330.7,728.8 325.7,736.1 C320.7,743.4 313.2,751.7 307.0,761.1 C300.8,770.5 293.1,781.9 288.3,792.3 C283.5,802.7 281.4,816.3 278.3,823.4 C275.2,830.5 272.5,832.2 269.6,834.7 C266.7,837.2 263.9,838.6 260.8,838.4 C257.7,838.2 254.1,838.0 250.8,833.4 C247.5,828.8 244.4,821.0 240.9,811.0 C237.4,801.0 233.6,784.6 229.6,773.6 C225.6,762.6 220.9,751.4 217.2,744.9 C213.5,738.4 209.3,737.4 207.2,734.9 C205.1,732.4 205.8,732.8 204.7,729.9Z" fill="none" stroke="#3a3a3a" stroke-width="1.0"/>
<path d="M215.6,733.2 C214.8,730.8 212.2,727.2 212.5,722.9 C212.9,718.6 214.3,711.4 217.7,707.6 C221.1,703.7 227.1,701.5 233.0,699.9 C239.0,698.4 243.2,698.7 253.4,698.4 C263.7,698.0 284.1,698.1 294.4,697.9 C304.6,697.7 309.9,695.7 314.9,697.3 C319.8,698.9 322.5,703.3 324.0,707.6 C325.6,711.8 325.6,717.8 324.0,722.9 C322.5,728.0 319.0,732.3 314.9,738.2 C310.8,744.2 304.6,751.1 299.5,758.7 C294.4,766.4 288.1,775.8 284.2,784.3 C280.3,792.8 278.6,804.0 276.0,809.8 C273.4,815.6 271.3,817.0 268.9,819.1 C266.5,821.1 264.2,822.3 261.6,822.1 C259.1,822.0 256.2,821.8 253.4,818.0 C250.7,814.3 248.2,807.8 245.3,799.7 C242.4,791.5 239.3,778.0 236.1,769.0 C232.8,760.0 229.0,750.7 225.9,745.5 C222.8,740.2 219.4,739.3 217.7,737.3 C216.0,735.2 216.5,735.5 215.6,733.2Z" fill="none" stroke="#3a3a3a" stroke-width="1.0"/>
<path d="M224.2,735.7 C223.4,733.7 221.3,730.7 221.6,727.2 C221.9,723.7 223.0,717.6 225.9,714.5 C228.7,711.3 233.6,709.4 238.6,708.2 C243.5,706.9 247.0,707.1 255.5,706.9 C264.0,706.6 280.9,706.6 289.4,706.5 C297.9,706.3 302.3,704.6 306.4,706.0 C310.5,707.3 312.8,710.9 314.1,714.5 C315.3,718.0 315.3,723.0 314.1,727.2 C312.8,731.4 309.8,735.0 306.4,739.9 C303.0,744.9 298.0,750.5 293.7,756.9 C289.5,763.3 284.3,771.1 281.0,778.1 C277.8,785.2 276.3,794.5 274.2,799.3 C272.1,804.1 270.3,805.3 268.3,807.0 C266.3,808.7 264.4,809.6 262.3,809.5 C260.2,809.3 257.8,809.2 255.5,806.1 C253.2,803.0 251.2,797.6 248.8,790.8 C246.4,784.1 243.8,772.9 241.1,765.4 C238.4,757.9 235.2,750.3 232.7,745.9 C230.1,741.5 227.3,740.8 225.9,739.1 C224.4,737.4 224.9,737.7 224.2,735.7Z" fill="none" stroke="#3a3a3a" stroke-width="1.0"/>
<path d="M230.8,737.7 C230.2,736.0 228.4,733.5 228.7,730.6 C228.9,727.6 229.9,722.6 232.3,719.9 C234.6,717.2 238.8,715.7 242.9,714.6 C247.1,713.5 250.0,713.8 257.1,713.5 C264.2,713.3 278.4,713.3 285.6,713.2 C292.7,713.0 296.4,711.7 299.8,712.8 C303.3,713.9 305.1,716.9 306.2,719.9 C307.3,722.9 307.3,727.0 306.2,730.6 C305.1,734.1 302.7,737.1 299.8,741.2 C297.0,745.4 292.7,750.1 289.2,755.5 C285.6,760.8 281.2,767.3 278.5,773.3 C275.8,779.2 274.6,786.9 272.8,791.0 C271.0,795.0 269.5,796.0 267.8,797.4 C266.2,798.8 264.6,799.7 262.8,799.5 C261.0,799.4 259.0,799.3 257.1,796.7 C255.2,794.1 253.5,789.6 251.5,783.9 C249.5,778.2 247.3,768.9 245.0,762.6 C242.8,756.3 240.1,749.9 238.0,746.2 C235.8,742.6 233.5,742.0 232.3,740.5 C231.1,739.1 231.4,739.3 230.8,737.7Z" fill="none" stroke="#3a3a3a" stroke-width="1.0"/>
<path d="M236.3,739.3 C235.8,737.9 234.3,735.8 234.5,733.3 C234.7,730.8 235.5,726.6 237.5,724.3 C239.5,722.1 243.0,720.8 246.5,719.9 C250.0,719.0 252.5,719.2 258.4,719.0 C264.4,718.8 276.4,718.8 282.4,718.7 C288.4,718.6 291.5,717.4 294.4,718.3 C297.3,719.3 298.9,721.8 299.8,724.3 C300.7,726.8 300.7,730.3 299.8,733.3 C298.9,736.3 296.8,738.8 294.4,742.3 C292.0,745.8 288.4,749.8 285.4,754.3 C282.4,758.8 278.7,764.3 276.4,769.3 C274.1,774.2 273.1,780.8 271.6,784.2 C270.1,787.6 268.9,788.4 267.5,789.6 C266.1,790.8 264.7,791.5 263.2,791.4 C261.7,791.3 260.0,791.2 258.4,789.0 C256.9,786.8 255.4,783.0 253.7,778.2 C252.0,773.5 250.2,765.6 248.3,760.3 C246.4,755.0 244.1,749.6 242.3,746.5 C240.5,743.4 238.5,742.9 237.5,741.7 C236.5,740.5 236.8,740.7 236.3,739.3Z" fill="none" stroke="#3a3a3a" stroke-width="1.0"/>
<path d="M240.6,740.6 C240.1,739.4 238.8,737.6 239.0,735.5 C239.2,733.3 239.9,729.7 241.6,727.8 C243.3,725.9 246.3,724.7 249.3,724.0 C252.2,723.2 254.4,723.4 259.5,723.2 C264.6,723.0 274.8,723.0 279.9,722.9 C285.1,722.9 287.7,721.9 290.2,722.7 C292.7,723.5 294.0,725.7 294.8,727.8 C295.5,729.9 295.5,732.9 294.8,735.5 C294.0,738.0 292.2,740.1 290.2,743.1 C288.1,746.1 285.1,749.5 282.5,753.4 C280.0,757.2 276.8,761.9 274.8,766.2 C272.9,770.4 272.0,776.0 270.7,778.9 C269.5,781.8 268.4,782.5 267.2,783.5 C266.0,784.6 264.9,785.2 263.6,785.1 C262.3,785.0 260.8,784.9 259.5,783.0 C258.1,781.1 256.9,777.9 255.4,773.8 C254.0,769.7 252.4,763.0 250.8,758.5 C249.2,754.0 247.2,749.4 245.7,746.7 C244.2,744.1 242.5,743.7 241.6,742.6 C240.7,741.6 241.0,741.8 240.6,740.6Z" fill="none" stroke="#3a3a3a" stroke-width="1.0"/>
<path d="M244.2,741.7 C243.9,740.6 242.7,739.1 242.9,737.3 C243.0,735.5 243.6,732.4 245.1,730.7 C246.6,729.1 249.1,728.1 251.6,727.5 C254.2,726.8 256.0,727.0 260.4,726.8 C264.7,726.7 273.5,726.7 277.8,726.6 C282.2,726.5 284.5,725.7 286.6,726.4 C288.7,727.1 289.8,728.9 290.5,730.7 C291.1,732.6 291.1,735.1 290.5,737.3 C289.8,739.5 288.3,741.3 286.6,743.8 C284.8,746.4 282.2,749.3 280.0,752.6 C277.8,755.9 275.2,759.9 273.5,763.5 C271.8,767.1 271.1,771.9 270.0,774.4 C268.9,776.9 268.0,777.5 266.9,778.3 C265.9,779.2 265.0,779.7 263.9,779.6 C262.8,779.6 261.5,779.5 260.4,777.9 C259.2,776.3 258.1,773.5 256.9,770.1 C255.7,766.6 254.3,760.8 252.9,757.0 C251.6,753.1 249.9,749.2 248.6,746.9 C247.3,744.7 245.8,744.3 245.1,743.4 C244.4,742.5 244.6,742.7 244.2,741.7Z" fill="none" stroke="#3a3a3a" stroke-width="1.0"/>
<path d="M247.9,742.8 C247.6,741.9 246.6,740.6 246.8,739.1 C246.9,737.6 247.4,735.1 248.6,733.7 C249.8,732.3 251.9,731.5 254.0,731.0 C256.1,730.5 257.6,730.6 261.2,730.5 C264.9,730.3 272.1,730.3 275.7,730.3 C279.3,730.2 281.2,729.5 283.0,730.1 C284.7,730.6 285.7,732.2 286.2,733.7 C286.7,735.2 286.7,737.3 286.2,739.1 C285.7,740.9 284.4,742.4 283.0,744.5 C281.5,746.7 279.3,749.1 277.5,751.8 C275.7,754.5 273.5,757.8 272.1,760.8 C270.7,763.9 270.1,767.8 269.2,769.9 C268.3,771.9 267.5,772.4 266.7,773.1 C265.8,773.9 265.0,774.3 264.1,774.2 C263.2,774.2 262.2,774.1 261.2,772.8 C260.3,771.4 259.4,769.2 258.4,766.3 C257.3,763.4 256.2,758.6 255.1,755.4 C253.9,752.2 252.6,749.0 251.5,747.1 C250.4,745.2 249.2,744.9 248.6,744.2 C248.0,743.5 248.2,743.6 247.9,742.8Z" fill="none" stroke="#3a3a3a" stroke-width="1.0"/>
<path d="M250.9,743.7 C250.7,743.0 249.9,741.9 250.0,740.7 C250.1,739.4 250.5,737.3 251.5,736.2 C252.5,735.0 254.3,734.4 256.0,733.9 C257.7,733.5 259.0,733.6 262.0,733.5 C265.0,733.4 271.0,733.4 273.9,733.3 C276.9,733.3 278.5,732.7 279.9,733.2 C281.4,733.6 282.2,734.9 282.6,736.2 C283.1,737.4 283.1,739.2 282.6,740.7 C282.2,742.2 281.1,743.4 279.9,745.1 C278.8,746.9 277.0,748.9 275.5,751.1 C274.0,753.4 272.1,756.1 271.0,758.6 C269.8,761.1 269.3,764.4 268.6,766.1 C267.8,767.8 267.2,768.2 266.5,768.8 C265.8,769.4 265.1,769.7 264.4,769.7 C263.6,769.6 262.8,769.6 262.0,768.5 C261.2,767.4 260.4,765.5 259.6,763.1 C258.7,760.7 257.8,756.8 256.9,754.1 C255.9,751.5 254.8,748.8 253.9,747.3 C253.0,745.7 252.0,745.5 251.5,744.9 C251.0,744.3 251.2,744.4 250.9,743.7Z" fill="none" stroke="#3a3a3a" stroke-width="1.0"/>
<path d="M253.9,744.6 C253.7,744.0 253.1,743.2 253.2,742.2 C253.3,741.2 253.6,739.5 254.4,738.6 C255.2,737.7 256.6,737.2 258.0,736.9 C259.4,736.5 260.3,736.6 262.7,736.5 C265.1,736.4 269.8,736.4 272.2,736.4 C274.6,736.3 275.8,735.9 276.9,736.3 C278.1,736.6 278.7,737.6 279.1,738.6 C279.4,739.6 279.4,741.0 279.1,742.2 C278.7,743.4 277.9,744.4 276.9,745.7 C276.0,747.1 274.6,748.7 273.4,750.5 C272.2,752.3 270.7,754.4 269.8,756.4 C268.9,758.4 268.5,761.0 267.9,762.3 C267.3,763.7 266.8,764.0 266.3,764.5 C265.7,764.9 265.2,765.2 264.6,765.2 C264.0,765.1 263.3,765.1 262.7,764.2 C262.1,763.4 261.5,761.9 260.8,760.0 C260.2,758.1 259.4,755.0 258.7,752.9 C257.9,750.8 257.0,748.6 256.3,747.4 C255.6,746.2 254.8,746.0 254.4,745.5 C254.0,745.0 254.1,745.1 253.9,744.6Z" fill="none" stroke="#3a3a3a" stroke-width="1.0"/>
<path d="M257.0,745.5 C256.8,745.1 256.4,744.4 256.5,743.7 C256.5,743.0 256.8,741.8 257.3,741.1 C257.9,740.4 258.9,740.1 260.0,739.8 C261.0,739.5 261.7,739.6 263.4,739.5 C265.2,739.5 268.7,739.5 270.4,739.4 C272.2,739.4 273.1,739.1 273.9,739.3 C274.8,739.6 275.2,740.4 275.5,741.1 C275.8,741.8 275.8,742.8 275.5,743.7 C275.2,744.6 274.6,745.3 273.9,746.3 C273.2,747.4 272.2,748.5 271.3,749.8 C270.4,751.1 269.4,752.7 268.7,754.2 C268.0,755.7 267.7,757.6 267.3,758.6 C266.9,759.5 266.5,759.8 266.1,760.1 C265.7,760.5 265.3,760.7 264.8,760.7 C264.4,760.6 263.9,760.6 263.4,760.0 C263.0,759.3 262.6,758.2 262.1,756.8 C261.6,755.4 261.0,753.1 260.5,751.6 C259.9,750.0 259.3,748.5 258.7,747.6 C258.2,746.7 257.6,746.5 257.3,746.2 C257.0,745.8 257.1,745.9 257.0,745.5Z" fill="none" stroke="#3a3a3a" stroke-width="1.0"/>
<path d="M328.0,711.0 C328.0,713.1 327.3,715.2 326.0,717.2 C324.6,719.2 322.5,721.2 320.0,723.0 C317.4,724.8 314.1,726.5 310.4,728.0 C306.8,729.4 302.5,730.7 298.0,731.8 C293.5,732.8 288.5,733.6 283.5,734.2 C278.5,734.7 273.2,735.0 268.0,735.0 C262.8,735.0 257.5,734.7 252.5,734.2 C247.5,733.6 242.5,732.8 238.0,731.8 C233.5,730.7 229.2,729.4 225.6,728.0 C221.9,726.5 218.6,724.8 216.0,723.0 C213.5,721.2 211.4,719.2 210.0,717.2 C208.7,715.2 208.0,713.1 208.0,711.0 C208.0,708.9 208.7,706.8 210.0,704.8 C211.4,702.8 213.5,700.8 216.0,699.0 C218.6,697.2 221.9,695.5 225.6,694.0 C229.2,692.6 233.5,691.3 238.0,690.2 C242.5,689.2 247.5,688.4 252.5,687.8 C257.5,687.3 262.8,687.0 268.0,687.0 C273.2,687.0 278.5,687.3 283.5,687.8 C288.5,688.4 293.5,689.2 298.0,690.2 C302.5,691.3 306.8,692.6 310.4,694.0 C314.1,695.5 317.4,697.2 320.0,699.0 C322.5,700.8 324.6,702.8 326.0,704.8 C327.3,706.8 328.0,708.9 328.0,711.0Z" fill="none" stroke="#3a3a3a" stroke-width="1.0"/>
<path d="M323.8,711.0 C323.8,712.9 323.1,714.9 321.9,716.8 C320.7,718.6 318.7,720.5 316.3,722.2 C313.9,723.8 310.9,725.4 307.5,726.8 C304.1,728.1 300.1,729.4 295.9,730.3 C291.7,731.3 287.1,732.1 282.4,732.6 C277.8,733.1 272.8,733.3 268.0,733.3 C263.2,733.3 258.2,733.1 253.6,732.6 C248.9,732.1 244.3,731.3 240.1,730.3 C235.9,729.4 231.9,728.1 228.5,726.8 C225.1,725.4 222.1,723.8 219.7,722.2 C217.3,720.5 215.3,718.6 214.1,716.8 C212.9,714.9 212.2,712.9 212.2,711.0 C212.2,709.1 212.9,707.1 214.1,705.2 C215.3,703.4 217.3,701.5 219.7,699.8 C222.1,698.2 225.1,696.6 228.5,695.2 C231.9,693.9 235.9,692.6 240.1,691.7 C244.3,690.7 248.9,689.9 253.6,689.4 C258.2,688.9 263.2,688.7 268.0,688.7 C272.8,688.7 277.8,688.9 282.4,689.4 C287.1,689.9 291.7,690.7 295.9,691.7 C300.1,692.6 304.1,693.9 307.5,695.2 C310.9,696.6 313.9,698.2 316.3,699.8 C318.7,701.5 320.7,703.4 321.9,705.2 C323.1,707.1 323.8,709.1 323.8,711.0Z" fill="none" stroke="#3a3a3a" stroke-width="1.0"/>
<path d="M319.6,711.0 C319.6,712.8 319.0,714.6 317.8,716.3 C316.7,718.1 314.9,719.8 312.7,721.3 C310.5,722.9 307.6,724.3 304.5,725.6 C301.3,726.9 297.7,728.0 293.8,728.9 C289.9,729.8 285.7,730.5 281.4,730.9 C277.1,731.4 272.5,731.6 268.0,731.6 C263.5,731.6 258.9,731.4 254.6,730.9 C250.3,730.5 246.1,729.8 242.2,728.9 C238.3,728.0 234.7,726.9 231.5,725.6 C228.4,724.3 225.5,722.9 223.3,721.3 C221.1,719.8 219.3,718.1 218.2,716.3 C217.0,714.6 216.4,712.8 216.4,711.0 C216.4,709.2 217.0,707.4 218.2,705.7 C219.3,703.9 221.1,702.2 223.3,700.7 C225.5,699.1 228.4,697.7 231.5,696.4 C234.7,695.1 238.3,694.0 242.2,693.1 C246.1,692.2 250.3,691.5 254.6,691.1 C258.9,690.6 263.5,690.4 268.0,690.4 C272.5,690.4 277.1,690.6 281.4,691.1 C285.7,691.5 289.9,692.2 293.8,693.1 C297.7,694.0 301.3,695.1 304.5,696.4 C307.6,697.7 310.5,699.1 312.7,700.7 C314.9,702.2 316.7,703.9 317.8,705.7 C319.0,707.4 319.6,709.2 319.6,711.0Z" fill="none" stroke="#3a3a3a" stroke-width="1.0"/>
<ellipse cx="272" cy="709" rx="52" ry="21" fill="#6a6a6a"/>
<ellipse cx="274" cy="710" rx="44" ry="15" fill="#262626"/>
<ellipse cx="270" cy="702" rx="30" ry="3" fill="#555" fill-opacity="0.7"/>
<ellipse cx="268" cy="716" rx="20" ry="2" fill="#fff" fill-opacity="0.7"/>
<ellipse cx="265.5" cy="748" rx="3.5" ry="3.5" fill="#fff" stroke="#444" stroke-width="1"/>
<rect x="200" y="690" width="41" height="45" fill="#fff" fill-opacity="0.8"/>
<path d="M485.3,736.8 C486.9,738.3 487.9,740.7 488.0,743.6 C488.2,746.6 487.6,750.3 486.3,754.5 C485.0,758.6 482.9,763.4 480.2,768.5 C477.6,773.5 474.1,779.2 470.3,784.8 C466.4,790.4 461.8,796.4 457.0,802.2 C452.3,808.0 446.9,814.0 441.5,819.6 C436.1,825.1 430.3,830.7 424.7,835.7 C419.1,840.7 413.2,845.5 407.7,849.5 C402.3,853.6 396.8,857.2 391.8,860.0 C386.9,862.9 382.1,865.2 378.0,866.6 C373.9,868.0 370.2,868.8 367.3,868.7 C364.3,868.6 361.9,867.8 360.3,866.2 C358.7,864.7 357.7,862.3 357.6,859.4 C357.4,856.4 358.0,852.7 359.3,848.5 C360.6,844.4 362.7,839.6 365.4,834.5 C368.0,829.5 371.5,823.8 375.3,818.2 C379.2,812.6 383.8,806.6 388.6,800.8 C393.3,795.0 398.7,789.0 404.1,783.4 C409.5,777.9 415.3,772.3 420.9,767.3 C426.5,762.3 432.4,757.5 437.9,753.5 C443.3,749.4 448.8,745.8 453.8,743.0 C458.7,740.1 463.5,737.8 467.6,736.4 C471.7,735.0 475.4,734.2 478.3,734.3 C481.3,734.4 483.7,735.2 485.3,736.8Z" fill="none" stroke="#3a3a3a" stroke-width="1.0"/>
<path d="M480.8,741.3 C482.2,742.7 483.1,744.8 483.2,747.5 C483.4,750.1 482.8,753.5 481.7,757.2 C480.5,760.9 478.6,765.3 476.2,769.8 C473.8,774.4 470.7,779.4 467.2,784.5 C463.8,789.5 459.7,795.0 455.3,800.2 C451.0,805.4 446.2,810.8 441.4,815.8 C436.5,820.8 431.3,825.8 426.2,830.3 C421.2,834.8 415.9,839.1 411.0,842.8 C406.0,846.4 401.1,849.7 396.6,852.2 C392.2,854.8 387.9,856.8 384.2,858.1 C380.5,859.4 377.2,860.1 374.5,860.0 C371.9,860.0 369.7,859.2 368.3,857.8 C366.8,856.4 366.0,854.3 365.8,851.6 C365.7,849.0 366.2,845.6 367.4,841.9 C368.5,838.2 370.4,833.8 372.8,829.3 C375.2,824.7 378.3,819.7 381.8,814.6 C385.3,809.6 389.4,804.1 393.7,798.9 C398.0,793.7 402.8,788.3 407.7,783.3 C412.5,778.3 417.8,773.3 422.8,768.8 C427.9,764.3 433.1,760.0 438.1,756.3 C443.0,752.7 447.9,749.4 452.4,746.9 C456.9,744.3 461.1,742.3 464.8,741.0 C468.5,739.7 471.9,739.0 474.5,739.1 C477.2,739.1 479.3,739.9 480.8,741.3Z" fill="none" stroke="#3a3a3a" stroke-width="1.0"/>
<path d="M476.7,745.4 C478.0,746.6 478.8,748.5 478.9,750.9 C479.0,753.3 478.6,756.3 477.5,759.7 C476.4,763.1 474.8,767.0 472.6,771.1 C470.4,775.2 467.6,779.7 464.5,784.2 C461.4,788.8 457.7,793.7 453.8,798.4 C449.9,803.1 445.6,807.9 441.2,812.4 C436.8,816.9 432.2,821.5 427.6,825.5 C423.0,829.5 418.3,833.4 413.9,836.7 C409.4,840.0 405.0,842.9 401.0,845.2 C397.0,847.5 393.1,849.4 389.8,850.5 C386.5,851.7 383.5,852.3 381.1,852.2 C378.7,852.2 376.7,851.5 375.4,850.2 C374.1,849.0 373.4,847.1 373.2,844.7 C373.1,842.3 373.6,839.2 374.6,835.9 C375.7,832.5 377.4,828.6 379.5,824.5 C381.7,820.4 384.5,815.9 387.6,811.3 C390.8,806.8 394.4,801.9 398.3,797.2 C402.2,792.5 406.5,787.7 410.9,783.2 C415.3,778.6 420.0,774.1 424.5,770.1 C429.1,766.0 433.8,762.2 438.3,758.9 C442.7,755.6 447.2,752.7 451.2,750.4 C455.2,748.1 459.0,746.2 462.3,745.1 C465.7,743.9 468.7,743.3 471.1,743.4 C473.5,743.4 475.4,744.1 476.7,745.4Z" fill="none" stroke="#3a3a3a" stroke-width="1.0"/>
<path d="M473.1,749.0 C474.3,750.1 474.9,751.8 475.1,754.0 C475.2,756.2 474.7,758.9 473.8,761.9 C472.8,764.9 471.3,768.5 469.4,772.1 C467.4,775.8 464.9,779.9 462.1,784.0 C459.3,788.1 455.9,792.5 452.4,796.7 C448.9,801.0 445.0,805.3 441.1,809.4 C437.2,813.5 432.9,817.6 428.8,821.2 C424.7,824.8 420.4,828.3 416.4,831.3 C412.4,834.2 408.4,836.9 404.8,839.0 C401.2,841.1 397.7,842.7 394.7,843.8 C391.8,844.8 389.1,845.3 386.9,845.3 C384.7,845.3 383.0,844.6 381.8,843.5 C380.6,842.4 379.9,840.6 379.8,838.5 C379.7,836.3 380.1,833.6 381.1,830.6 C382.0,827.5 383.6,824.0 385.5,820.3 C387.5,816.6 390.0,812.5 392.8,808.4 C395.6,804.3 398.9,800.0 402.4,795.7 C405.9,791.5 409.9,787.1 413.8,783.1 C417.7,779.0 422.0,774.9 426.1,771.3 C430.2,767.6 434.4,764.1 438.4,761.2 C442.4,758.2 446.4,755.6 450.1,753.5 C453.7,751.4 457.2,749.8 460.1,748.7 C463.1,747.7 465.8,747.1 468.0,747.2 C470.2,747.2 471.9,747.8 473.1,749.0Z" fill="none" stroke="#3a3a3a" stroke-width="1.0"/>
<path d="M469.9,752.1 C471.0,753.2 471.6,754.7 471.7,756.7 C471.8,758.6 471.4,761.1 470.6,763.8 C469.7,766.6 468.3,769.8 466.6,773.1 C464.8,776.4 462.5,780.1 460.0,783.8 C457.4,787.5 454.4,791.5 451.3,795.3 C448.1,799.2 444.6,803.1 441.0,806.8 C437.4,810.5 433.6,814.1 429.9,817.4 C426.2,820.7 422.3,823.9 418.7,826.6 C415.1,829.2 411.5,831.6 408.2,833.5 C404.9,835.4 401.8,836.9 399.1,837.8 C396.4,838.8 393.9,839.3 392.0,839.2 C390.0,839.2 388.5,838.6 387.4,837.6 C386.3,836.6 385.7,835.0 385.6,833.1 C385.5,831.1 385.9,828.6 386.7,825.9 C387.6,823.2 389.0,820.0 390.7,816.7 C392.5,813.3 394.8,809.6 397.3,805.9 C399.9,802.2 402.9,798.2 406.0,794.4 C409.2,790.6 412.7,786.6 416.3,782.9 C419.9,779.3 423.7,775.6 427.4,772.3 C431.1,769.0 435.0,765.9 438.6,763.2 C442.2,760.5 445.8,758.1 449.1,756.2 C452.4,754.3 455.5,752.9 458.2,751.9 C460.9,751.0 463.4,750.5 465.3,750.5 C467.3,750.6 468.8,751.1 469.9,752.1Z" fill="none" stroke="#3a3a3a" stroke-width="1.0"/>
<path d="M467.2,754.9 C468.2,755.8 468.7,757.2 468.8,759.0 C468.9,760.8 468.6,763.0 467.8,765.5 C467.0,768.0 465.7,770.9 464.1,773.9 C462.5,776.9 460.5,780.3 458.2,783.7 C455.8,787.0 453.1,790.6 450.2,794.1 C447.4,797.6 444.1,801.2 440.9,804.5 C437.7,807.9 434.2,811.2 430.8,814.2 C427.4,817.2 423.9,820.1 420.6,822.5 C417.4,824.9 414.1,827.1 411.1,828.8 C408.1,830.5 405.3,831.9 402.8,832.8 C400.3,833.6 398.1,834.1 396.4,834.0 C394.6,834.0 393.1,833.5 392.2,832.5 C391.2,831.6 390.6,830.2 390.5,828.4 C390.4,826.6 390.8,824.4 391.6,821.9 C392.4,819.4 393.6,816.5 395.2,813.5 C396.8,810.5 398.9,807.1 401.2,803.7 C403.5,800.4 406.3,796.8 409.1,793.3 C412.0,789.8 415.2,786.2 418.5,782.9 C421.7,779.5 425.2,776.2 428.5,773.2 C431.9,770.2 435.4,767.3 438.7,764.9 C442.0,762.5 445.3,760.3 448.3,758.6 C451.2,756.9 454.1,755.5 456.6,754.6 C459.0,753.8 461.2,753.3 463.0,753.4 C464.8,753.4 466.2,753.9 467.2,754.9Z" fill="none" stroke="#3a3a3a" stroke-width="1.0"/>
<path d="M464.9,757.1 C465.8,758.0 466.3,759.3 466.4,760.9 C466.5,762.5 466.2,764.6 465.5,766.9 C464.7,769.1 463.6,771.8 462.1,774.6 C460.7,777.3 458.8,780.4 456.6,783.5 C454.5,786.6 452.0,789.9 449.4,793.1 C446.7,796.3 443.8,799.6 440.8,802.7 C437.9,805.7 434.7,808.8 431.6,811.5 C428.5,814.3 425.3,816.9 422.3,819.1 C419.2,821.4 416.2,823.4 413.5,824.9 C410.8,826.5 408.2,827.7 405.9,828.5 C403.7,829.3 401.6,829.7 400.0,829.7 C398.4,829.7 397.0,829.2 396.2,828.3 C395.3,827.5 394.8,826.2 394.7,824.5 C394.6,822.9 394.9,820.9 395.6,818.6 C396.3,816.3 397.5,813.7 399.0,810.9 C400.4,808.1 402.3,805.0 404.4,801.9 C406.6,798.8 409.1,795.5 411.7,792.3 C414.3,789.2 417.3,785.9 420.3,782.8 C423.2,779.7 426.4,776.7 429.5,773.9 C432.6,771.2 435.8,768.6 438.8,766.3 C441.8,764.1 444.9,762.1 447.6,760.5 C450.3,759.0 452.9,757.7 455.2,756.9 C457.4,756.1 459.5,755.7 461.1,755.8 C462.7,755.8 464.0,756.3 464.9,757.1Z" fill="none" stroke="#3a3a3a" stroke-width="1.0"/>
<ellipse cx="433.5" cy="794.5" rx="68" ry="21" transform="rotate(-51 433.5 794.5)" fill="#6a6a6a"/>
<ellipse cx="433.5" cy="794.5" rx="61" ry="17.5" transform="rotate(-51 433.5 794.5)" fill="#1e1a1b"/>
<ellipse cx="436" cy="791" rx="36" ry="1.6" transform="rotate(-51 436 791)" fill="#fff" fill-opacity="0.55"/>
<path d="M400,920 C402,909 420,905 440,905 C455,906 459,915 458,926 C456,938 444,945 428,945 C410,944 399,933 400,920Z" fill="none" stroke="#444" stroke-width="1.1"/>
<path d="M416,922 C417,914 427,911 436,912 C446,913 448,921 447,928 C445,935 437,938 429,937 C420,936 415,930 416,922Z" fill="none" stroke="#444" stroke-width="1.1"/>
<rect x="176.8" y="683.5" width="329.09999999999997" height="328.20000000000005" fill="none" stroke="#444" stroke-width="1.6"/>
<line x1="167.8" y1="714.2" x2="176.8" y2="714.2" stroke="#222" stroke-width="2.6"/>
<line x1="167.8" y1="794.0" x2="176.8" y2="794.0" stroke="#222" stroke-width="2.6"/>
<line x1="167.8" y1="882.8" x2="176.8" y2="882.8" stroke="#222" stroke-width="2.6"/>
<line x1="167.8" y1="935.5" x2="176.8" y2="935.5" stroke="#222" stroke-width="2.6"/>
<line x1="167.8" y1="990.6" x2="176.8" y2="990.6" stroke="#222" stroke-width="2.6"/>
<line x1="171.8" y1="770.0" x2="176.8" y2="770.0" stroke="#222" stroke-width="1.3"/>
<line x1="171.8" y1="755.9" x2="176.8" y2="755.9" stroke="#222" stroke-width="1.3"/>
<line x1="171.8" y1="746.0" x2="176.8" y2="746.0" stroke="#222" stroke-width="1.3"/>
<line x1="171.8" y1="738.2" x2="176.8" y2="738.2" stroke="#222" stroke-width="1.3"/>
<line x1="171.8" y1="731.9" x2="176.8" y2="731.9" stroke="#222" stroke-width="1.3"/>
<line x1="171.8" y1="726.6" x2="176.8" y2="726.6" stroke="#222" stroke-width="1.3"/>
<line x1="171.8" y1="721.9" x2="176.8" y2="721.9" stroke="#222" stroke-width="1.3"/>
<line x1="171.8" y1="717.9" x2="176.8" y2="717.9" stroke="#222" stroke-width="1.3"/>
<line x1="171.8" y1="856.1" x2="176.8" y2="856.1" stroke="#222" stroke-width="1.3"/>
<line x1="171.8" y1="840.4" x2="176.8" y2="840.4" stroke="#222" stroke-width="1.3"/>
<line x1="171.8" y1="829.3" x2="176.8" y2="829.3" stroke="#222" stroke-width="1.3"/>
<line x1="171.8" y1="820.7" x2="176.8" y2="820.7" stroke="#222" stroke-width="1.3"/>
<line x1="171.8" y1="813.7" x2="176.8" y2="813.7" stroke="#222" stroke-width="1.3"/>
<line x1="171.8" y1="807.8" x2="176.8" y2="807.8" stroke="#222" stroke-width="1.3"/>
<line x1="171.8" y1="802.6" x2="176.8" y2="802.6" stroke="#222" stroke-width="1.3"/>
<line x1="171.8" y1="798.1" x2="176.8" y2="798.1" stroke="#222" stroke-width="1.3"/>
<line x1="171.8" y1="690.2" x2="176.8" y2="690.2" stroke="#222" stroke-width="1.3"/>
<line x1="171.8" y1="925.7" x2="176.8" y2="925.7" stroke="#222" stroke-width="1.3"/>
<line x1="171.8" y1="917.1" x2="176.8" y2="917.1" stroke="#222" stroke-width="1.3"/>
<line x1="171.8" y1="909.9" x2="176.8" y2="909.9" stroke="#222" stroke-width="1.3"/>
<line x1="171.8" y1="904.1" x2="176.8" y2="904.1" stroke="#222" stroke-width="1.3"/>
<line x1="171.8" y1="899.2" x2="176.8" y2="899.2" stroke="#222" stroke-width="1.3"/>
<line x1="171.8" y1="895.0" x2="176.8" y2="895.0" stroke="#222" stroke-width="1.3"/>
<line x1="171.8" y1="891.4" x2="176.8" y2="891.4" stroke="#222" stroke-width="1.3"/>
<line x1="171.8" y1="888.2" x2="176.8" y2="888.2" stroke="#222" stroke-width="1.3"/>
<line x1="171.8" y1="885.4" x2="176.8" y2="885.4" stroke="#222" stroke-width="1.3"/>
<line x1="171.8" y1="945.8" x2="176.8" y2="945.8" stroke="#222" stroke-width="1.3"/>
<line x1="171.8" y1="954.8" x2="176.8" y2="954.8" stroke="#222" stroke-width="1.3"/>
<line x1="171.8" y1="962.2" x2="176.8" y2="962.2" stroke="#222" stroke-width="1.3"/>
<line x1="171.8" y1="968.4" x2="176.8" y2="968.4" stroke="#222" stroke-width="1.3"/>
<line x1="171.8" y1="973.5" x2="176.8" y2="973.5" stroke="#222" stroke-width="1.3"/>
<line x1="171.8" y1="977.8" x2="176.8" y2="977.8" stroke="#222" stroke-width="1.3"/>
<line x1="171.8" y1="981.6" x2="176.8" y2="981.6" stroke="#222" stroke-width="1.3"/>
<line x1="171.8" y1="984.9" x2="176.8" y2="984.9" stroke="#222" stroke-width="1.3"/>
<line x1="171.8" y1="987.9" x2="176.8" y2="987.9" stroke="#222" stroke-width="1.3"/>
<rect x="168.8" y="927.0" width="8" height="17.0" fill="#222"/>
<line x1="196.4" y1="1011.7" x2="196.4" y2="1020.7" stroke="#222" stroke-width="2.6"/>
<line x1="256.6" y1="1011.7" x2="256.6" y2="1020.7" stroke="#222" stroke-width="2.6"/>
<line x1="304.8" y1="1011.7" x2="304.8" y2="1020.7" stroke="#222" stroke-width="2.6"/>
<line x1="394.2" y1="1011.7" x2="394.2" y2="1020.7" stroke="#222" stroke-width="2.6"/>
<line x1="473.4" y1="1011.7" x2="473.4" y2="1020.7" stroke="#222" stroke-width="2.6"/>
<line x1="331.7" y1="1011.7" x2="331.7" y2="1016.7" stroke="#222" stroke-width="1.3"/>
<line x1="347.5" y1="1011.7" x2="347.5" y2="1016.7" stroke="#222" stroke-width="1.3"/>
<line x1="358.6" y1="1011.7" x2="358.6" y2="1016.7" stroke="#222" stroke-width="1.3"/>
<line x1="367.3" y1="1011.7" x2="367.3" y2="1016.7" stroke="#222" stroke-width="1.3"/>
<line x1="374.4" y1="1011.7" x2="374.4" y2="1016.7" stroke="#222" stroke-width="1.3"/>
<line x1="380.4" y1="1011.7" x2="380.4" y2="1016.7" stroke="#222" stroke-width="1.3"/>
<line x1="385.5" y1="1011.7" x2="385.5" y2="1016.7" stroke="#222" stroke-width="1.3"/>
<line x1="390.1" y1="1011.7" x2="390.1" y2="1016.7" stroke="#222" stroke-width="1.3"/>
<line x1="418.0" y1="1011.7" x2="418.0" y2="1016.7" stroke="#222" stroke-width="1.3"/>
<line x1="432.0" y1="1011.7" x2="432.0" y2="1016.7" stroke="#222" stroke-width="1.3"/>
<line x1="441.9" y1="1011.7" x2="441.9" y2="1016.7" stroke="#222" stroke-width="1.3"/>
<line x1="449.6" y1="1011.7" x2="449.6" y2="1016.7" stroke="#222" stroke-width="1.3"/>
<line x1="455.8" y1="1011.7" x2="455.8" y2="1016.7" stroke="#222" stroke-width="1.3"/>
<line x1="461.1" y1="1011.7" x2="461.1" y2="1016.7" stroke="#222" stroke-width="1.3"/>
<line x1="465.7" y1="1011.7" x2="465.7" y2="1016.7" stroke="#222" stroke-width="1.3"/>
<line x1="469.8" y1="1011.7" x2="469.8" y2="1016.7" stroke="#222" stroke-width="1.3"/>
<line x1="497.2" y1="1011.7" x2="497.2" y2="1016.7" stroke="#222" stroke-width="1.3"/>
<line x1="265.6" y1="1011.7" x2="265.6" y2="1016.7" stroke="#222" stroke-width="1.3"/>
<line x1="273.5" y1="1011.7" x2="273.5" y2="1016.7" stroke="#222" stroke-width="1.3"/>
<line x1="280.0" y1="1011.7" x2="280.0" y2="1016.7" stroke="#222" stroke-width="1.3"/>
<line x1="285.3" y1="1011.7" x2="285.3" y2="1016.7" stroke="#222" stroke-width="1.3"/>
<line x1="289.8" y1="1011.7" x2="289.8" y2="1016.7" stroke="#222" stroke-width="1.3"/>
<line x1="293.6" y1="1011.7" x2="293.6" y2="1016.7" stroke="#222" stroke-width="1.3"/>
<line x1="296.9" y1="1011.7" x2="296.9" y2="1016.7" stroke="#222" stroke-width="1.3"/>
<line x1="299.9" y1="1011.7" x2="299.9" y2="1016.7" stroke="#222" stroke-width="1.3"/>
<line x1="302.5" y1="1011.7" x2="302.5" y2="1016.7" stroke="#222" stroke-width="1.3"/>
<line x1="245.4" y1="1011.7" x2="245.4" y2="1016.7" stroke="#222" stroke-width="1.3"/>
<line x1="235.5" y1="1011.7" x2="235.5" y2="1016.7" stroke="#222" stroke-width="1.3"/>
<line x1="227.4" y1="1011.7" x2="227.4" y2="1016.7" stroke="#222" stroke-width="1.3"/>
<line x1="220.7" y1="1011.7" x2="220.7" y2="1016.7" stroke="#222" stroke-width="1.3"/>
<line x1="215.1" y1="1011.7" x2="215.1" y2="1016.7" stroke="#222" stroke-width="1.3"/>
<line x1="210.3" y1="1011.7" x2="210.3" y2="1016.7" stroke="#222" stroke-width="1.3"/>
<line x1="206.2" y1="1011.7" x2="206.2" y2="1016.7" stroke="#222" stroke-width="1.3"/>
<line x1="202.6" y1="1011.7" x2="202.6" y2="1016.7" stroke="#222" stroke-width="1.3"/>
<line x1="199.3" y1="1011.7" x2="199.3" y2="1016.7" stroke="#222" stroke-width="1.3"/>
<rect x="243.0" y="1011.7" width="2.4" height="8.5" fill="#222"/>
<rect x="245.9" y="1011.7" width="2.4" height="6" fill="#222"/>
<rect x="248.8" y="1011.7" width="2.4" height="8.5" fill="#222"/>
<rect x="251.7" y="1011.7" width="2.4" height="8.5" fill="#222"/>
<rect x="254.6" y="1011.7" width="2.4" height="6" fill="#222"/>
<rect x="257.5" y="1011.7" width="2.4" height="8.5" fill="#222"/>
<rect x="243.0" y="1011.7" width="16.0" height="4.5" fill="#222"/>
<line x1="346.3" y1="683.5" x2="346.3" y2="1011.7" stroke="#2a2a2a" stroke-width="2.3"/>
<line x1="176.8" y1="878.9" x2="505.9" y2="878.9" stroke="#2a2a2a" stroke-width="2.3"/>
<text transform="translate(182.06,708.10) scale(1.0900,1)" font-size="14.40" fill="#2a2a2a">Q1</text>
<text transform="translate(182.84,726.00) scale(1.0900,1)" font-size="14.40" fill="#2a2a2a">40.9873</text>
<text transform="translate(448.35,708.10) scale(1.0900,1)" font-size="14.40" fill="#2a2a2a">Q2</text>
<text transform="translate(412.22,726.00) scale(1.0900,1)" font-size="14.40" fill="#2a2a2a">57.1644</text>
<text transform="translate(182.06,978.60) scale(1.0900,1)" font-size="14.40" fill="#2a2a2a">Q4</text>
<text transform="translate(182.49,996.20) scale(1.0900,1)" font-size="14.40" fill="#2a2a2a">0.3406</text>
<text transform="translate(452.25,978.60) scale(1.0900,1)" font-size="14.40" fill="#2a2a2a">Q3</text>
<text transform="translate(425.28,996.20) scale(1.0900,1)" font-size="14.40" fill="#2a2a2a">1.5077</text>
<text transform="translate(139.00,723.60) scale(1.0300,1)" font-size="14.00" fill="#2a2a2a">10</text>
<text transform="translate(155.02,715.20) scale(0.8200,1)" font-size="14.00" fill="#2a2a2a">5</text>
<text transform="translate(139.00,802.00) scale(1.0300,1)" font-size="14.00" fill="#2a2a2a">10</text>
<text transform="translate(155.21,793.60) scale(0.8200,1)" font-size="14.00" fill="#2a2a2a">4</text>
<text transform="translate(139.00,891.60) scale(1.0300,1)" font-size="14.00" fill="#2a2a2a">10</text>
<text transform="translate(155.04,883.20) scale(0.8200,1)" font-size="14.00" fill="#2a2a2a">3</text>
<text x="151.10" y="940.80" font-size="14.00" text-anchor="middle" fill="#2a2a2a">0</text>
<text transform="translate(132.76,998.40) scale(1.0300,1)" font-size="14.00" fill="#2a2a2a">-10</text>
<text transform="translate(153.60,990.00) scale(0.8200,1)" font-size="14.00" fill="#2a2a2a">3</text>
<text transform="translate(191.96,1041.70) scale(1.0300,1)" font-size="14.00" fill="#2a2a2a">-10</text>
<text transform="translate(212.80,1033.30) scale(0.8200,1)" font-size="14.00" fill="#2a2a2a">3</text>
<text x="257.40" y="1041.70" font-size="14.00" text-anchor="middle" fill="#2a2a2a">0</text>
<text transform="translate(303.30,1041.70) scale(1.0300,1)" font-size="14.00" fill="#2a2a2a">10</text>
<text transform="translate(319.34,1033.30) scale(0.8200,1)" font-size="14.00" fill="#2a2a2a">3</text>
<text transform="translate(392.70,1041.70) scale(1.0300,1)" font-size="14.00" fill="#2a2a2a">10</text>
<text transform="translate(408.91,1033.30) scale(0.8200,1)" font-size="14.00" fill="#2a2a2a">4</text>
<text transform="translate(471.90,1041.70) scale(1.0300,1)" font-size="14.00" fill="#2a2a2a">10</text>
<text transform="translate(487.92,1033.30) scale(0.8200,1)" font-size="14.00" fill="#2a2a2a">5</text>
</svg></body></html>
